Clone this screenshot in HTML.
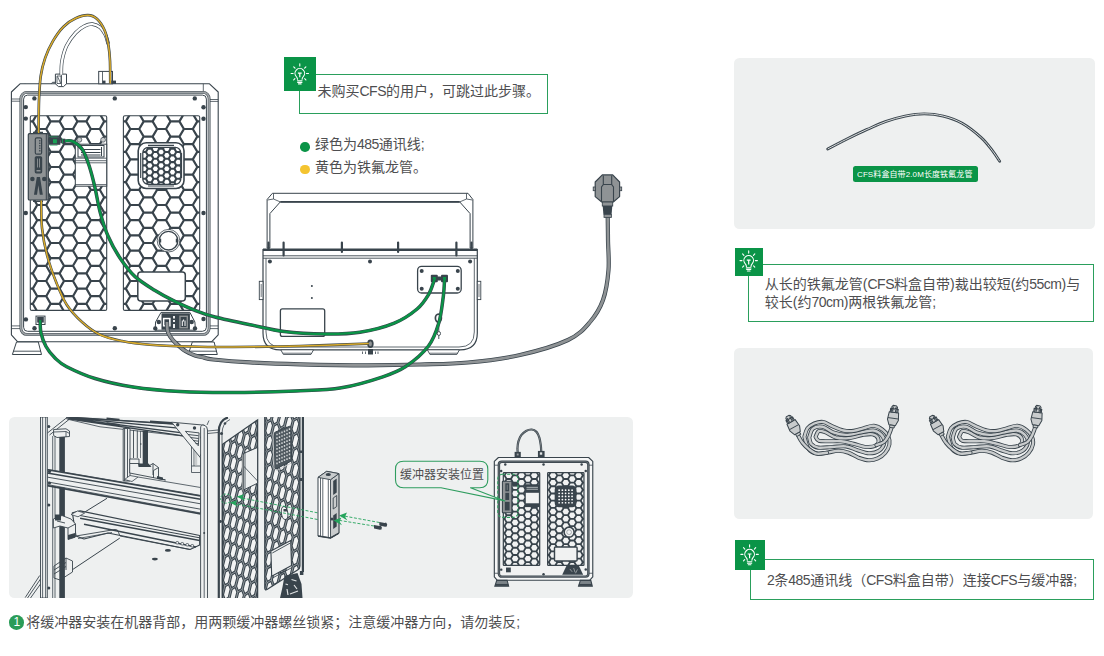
<!DOCTYPE html>
<html lang="zh-CN">
<head>
<meta charset="utf-8">
<title>CFS 连接</title>
<style>
*{box-sizing:border-box;margin:0;padding:0}
html,body{width:1104px;height:656px;background:#fff;overflow:hidden}
body{position:relative;font-family:"Liberation Sans","Noto Sans CJK SC",sans-serif;font-size:14px;color:#4e4e50;line-height:1}
.abs{position:absolute}
.panel{position:absolute;background:#eef0f0;border-radius:5.5px}
.tip{position:absolute;border:1.3px solid #2a9f5c;background:#fff}
.ico{position:absolute;background:#0a9447}
.ico svg{position:absolute;left:0;top:0;width:100%;height:100%}
.t{position:absolute;z-index:2;white-space:nowrap;line-height:14px}
.dot{position:absolute;width:9.6px;height:9.6px;border-radius:50%}
.l{letter-spacing:-0.5px}
svg.art{position:absolute;left:0;top:0}
</style>
</head>
<body>
<!-- panels -->
<div class="panel" style="left:9px;top:417px;width:624px;height:181px"></div>
<div class="panel" style="left:734.3px;top:58px;width:360.7px;height:170.7px"></div>
<div class="panel" style="left:734.3px;top:348px;width:359px;height:170.6px"></div>

<!-- tip 1 -->
<div class="tip" style="left:298.8px;top:73.9px;width:248.8px;height:40.3px"></div>
<div class="ico" style="left:284px;top:57px;width:32px;height:33.8px"><svg viewBox="0 0 32 33.8"><use href="#bulb" transform="translate(15.8 16.5)"/></svg></div>
<p class="t" style="left:317.5px;top:84px">未购买<span class="l">CFS</span>的用户，可跳过此步骤。</p>

<!-- legend -->
<span class="dot" style="left:300.3px;top:142px;background:#0a9447"></span>
<p class="t" style="left:315px;top:137.3px">绿色为<span class="l">485</span>通讯线;</p>
<span class="dot" style="left:300.3px;top:164.8px;background:#f4c430"></span>
<p class="t" style="left:315px;top:160.1px">黄色为铁氟龙管。</p>

<!-- tip 2 -->
<div class="tip" style="left:748.4px;top:263.5px;width:345.7px;height:58px"></div>
<div class="ico" style="left:735.2px;top:248.2px;width:27.7px;height:27.5px"><svg viewBox="0 0 27.7 27.5"><use href="#bulb" transform="translate(13.7 12.6)"/></svg></div>
<p class="t" style="left:764.8px;top:276px;line-height:17.8px">从长的铁氟龙管(<span class="l">CFS</span>料盒自带)裁出较短(约<span class="l">55cm</span>)与<br>较长(约<span class="l">70cm</span>)两根铁氟龙管;</p>

<!-- tip 3 -->
<div class="tip" style="left:750.1px;top:559px;width:344px;height:41px"></div>
<div class="ico" style="left:735.2px;top:540px;width:29.8px;height:29.9px"><svg viewBox="0 0 29.8 29.9"><use href="#bulb" transform="translate(14.6 14.4)"/></svg></div>
<p class="t" style="left:767px;top:573px"><span class="l">2</span>条<span class="l">485</span>通讯线（<span class="l">CFS</span>料盒自带）连接<span class="l">CFS</span>与缓冲器;</p>

<!-- green label -->
<div class="abs" style="left:852.6px;top:166.1px;width:125.6px;height:16.1px;background:#0a9447;border-radius:2.5px"></div>
<p class="t" style="left:857px;top:170px;font-size:16px;line-height:16px;color:#fff;letter-spacing:0.2px;transform:scale(0.5);transform-origin:0 0"><span>CFS</span>料盒自带<span>2.0M</span>长度铁氟龙管</p>

<!-- callout text -->
<p class="t" style="left:399.9px;top:468.6px;font-size:12px;line-height:12px;z-index:2">缓冲器安装位置</p>

<!-- caption -->
<span class="abs" style="left:9.4px;top:615.2px;width:14.7px;height:14.7px;border-radius:50%;background:#2a9c58;color:#fff;font-size:12px;line-height:14.7px;text-align:center">1</span>
<p class="t" style="left:26.3px;top:614.7px">将缓冲器安装在机器背部，用两颗缓冲器螺丝锁紧；注意缓冲器方向，请勿装反;</p>

<svg class="art" width="1104" height="656" viewBox="0 0 1104 656">
<defs>
<g id="bulb" fill="none" stroke="#fff" stroke-width="1.1" stroke-linecap="round" stroke-linejoin="round">
<path d="M-2.300 5.800c0-1.300-0.500-1.900-1.300-2.800a4.800 4.800 0 1 1 7.200 0c-0.800 0.900-1.300 1.500-1.300 2.800"/>
<path d="M-2.300 7.300h4.600M-2.100 8.900h4.200M-1.300 10.400h2.600"/>
<path d="M0 -9.700v2.200M-8.700 0h2M6.700 0h2M-6.100 -6.700l1.300 1.400M6.100 -6.700l-1.300 1.400M-6.100 6.500l1.200-1.300M6.100 6.500l-1.200-1.300"/>
<path d="M-1.900 -0.400h3.800M0 -0.400v4.200" stroke-width="1.200" stroke-linecap="butt"/>
</g>
</defs>
<defs><clipPath id="hc1"><rect x="30.3" y="115.7" width="76.4" height="194.7" rx="1.500"/></clipPath><path id="hx1" d="M10.4 83.4L19.4 83.4L23.8 91L19.4 98.6M10.4 98.6L19.4 98.6L23.8 106.2L19.4 113.8M10.4 113.8L19.4 113.8L23.8 121.4L19.4 129M10.4 129L19.4 129L23.8 136.6L19.4 144.2M10.4 144.2L19.4 144.2L23.8 151.8L19.4 159.4M10.4 159.4L19.4 159.4L23.8 167L19.4 174.6M10.4 174.6L19.4 174.6L23.8 182.2L19.4 189.8M10.4 189.8L19.4 189.8L23.8 197.4L19.4 205M10.4 205L19.4 205L23.8 212.6L19.4 220.2M10.4 220.2L19.4 220.2L23.8 227.8L19.4 235.4M10.4 235.4L19.4 235.4L23.8 243L19.4 250.6M10.4 250.6L19.4 250.6L23.8 258.2L19.4 265.8M10.4 265.8L19.4 265.8L23.8 273.4L19.4 281M10.4 281L19.4 281L23.8 288.6L19.4 296.2M10.4 296.2L19.4 296.2L23.8 303.8L19.4 311.4M10.4 311.4L19.4 311.4L23.8 319L19.4 326.6M10.4 326.6L19.4 326.6L23.8 334.2L19.4 341.8M23.8 91L32.8 91L37.2 98.6L32.8 106.2M23.8 106.2L32.8 106.2L37.2 113.8L32.8 121.4M23.8 121.4L32.8 121.4L37.2 129L32.8 136.6M23.8 136.6L32.8 136.6L37.2 144.2L32.8 151.8M23.8 151.8L32.8 151.8L37.2 159.4L32.8 167M23.8 167L32.8 167L37.2 174.6L32.8 182.2M23.8 182.2L32.8 182.2L37.2 189.8L32.8 197.4M23.8 197.4L32.8 197.4L37.2 205L32.8 212.6M23.8 212.6L32.8 212.6L37.2 220.2L32.8 227.8M23.8 227.8L32.8 227.8L37.2 235.4L32.8 243M23.8 243L32.8 243L37.2 250.6L32.8 258.2M23.8 258.2L32.8 258.2L37.2 265.8L32.8 273.4M23.8 273.4L32.8 273.4L37.2 281L32.8 288.6M23.8 288.6L32.8 288.6L37.2 296.2L32.8 303.8M23.8 303.8L32.8 303.8L37.2 311.4L32.8 319M23.8 319L32.8 319L37.2 326.6L32.8 334.2M37.2 83.4L46.2 83.4L50.6 91L46.2 98.6M37.2 98.6L46.2 98.6L50.6 106.2L46.2 113.8M37.2 113.8L46.2 113.8L50.6 121.4L46.2 129M37.2 129L46.2 129L50.6 136.6L46.2 144.2M37.2 144.2L46.2 144.2L50.6 151.8L46.2 159.4M37.2 159.4L46.2 159.4L50.6 167L46.2 174.6M37.2 174.6L46.2 174.6L50.6 182.2L46.2 189.8M37.2 189.8L46.2 189.8L50.6 197.4L46.2 205M37.2 205L46.2 205L50.6 212.6L46.2 220.2M37.2 220.2L46.2 220.2L50.6 227.8L46.2 235.4M37.2 235.4L46.2 235.4L50.6 243L46.2 250.6M37.2 250.6L46.2 250.6L50.6 258.2L46.2 265.8M37.2 265.8L46.2 265.8L50.6 273.4L46.2 281M37.2 281L46.2 281L50.6 288.6L46.2 296.2M37.2 296.2L46.2 296.2L50.6 303.8L46.2 311.4M37.2 311.4L46.2 311.4L50.6 319L46.2 326.6M37.2 326.6L46.2 326.6L50.6 334.2L46.2 341.8M50.6 91L59.6 91L64 98.6L59.6 106.2M50.6 106.2L59.6 106.2L64 113.8L59.6 121.4M50.6 121.4L59.6 121.4L64 129L59.6 136.6M50.6 136.6L59.6 136.6L64 144.2L59.6 151.8M50.6 151.8L59.6 151.8L64 159.4L59.6 167M50.6 167L59.6 167L64 174.6L59.6 182.2M50.6 182.2L59.6 182.2L64 189.8L59.6 197.4M50.6 197.4L59.6 197.4L64 205L59.6 212.6M50.6 212.6L59.6 212.6L64 220.2L59.6 227.8M50.6 227.8L59.6 227.8L64 235.4L59.6 243M50.6 243L59.6 243L64 250.6L59.6 258.2M50.6 258.2L59.6 258.2L64 265.8L59.6 273.4M50.6 273.4L59.6 273.4L64 281L59.6 288.6M50.6 288.6L59.6 288.6L64 296.2L59.6 303.8M50.6 303.8L59.6 303.8L64 311.4L59.6 319M50.6 319L59.6 319L64 326.6L59.6 334.2M64 83.4L73 83.4L77.4 91L73 98.6M64 98.6L73 98.6L77.4 106.2L73 113.8M64 113.8L73 113.8L77.4 121.4L73 129M64 129L73 129L77.4 136.6L73 144.2M64 144.2L73 144.2L77.4 151.8L73 159.4M64 159.4L73 159.4L77.4 167L73 174.6M64 174.6L73 174.6L77.4 182.2L73 189.8M64 189.8L73 189.8L77.4 197.4L73 205M64 205L73 205L77.4 212.6L73 220.2M64 220.2L73 220.2L77.4 227.8L73 235.4M64 235.4L73 235.4L77.4 243L73 250.6M64 250.6L73 250.6L77.4 258.2L73 265.8M64 265.8L73 265.8L77.4 273.4L73 281M64 281L73 281L77.4 288.6L73 296.2M64 296.2L73 296.2L77.4 303.8L73 311.4M64 311.4L73 311.4L77.4 319L73 326.6M64 326.6L73 326.6L77.4 334.2L73 341.8M77.4 91L86.4 91L90.8 98.6L86.4 106.2M77.4 106.2L86.4 106.2L90.8 113.8L86.4 121.4M77.4 121.4L86.4 121.4L90.8 129L86.4 136.6M77.4 136.6L86.4 136.6L90.8 144.2L86.4 151.8M77.4 151.8L86.4 151.8L90.8 159.4L86.4 167M77.4 167L86.4 167L90.8 174.6L86.4 182.2M77.4 182.2L86.4 182.2L90.8 189.8L86.4 197.4M77.4 197.4L86.4 197.4L90.8 205L86.4 212.6M77.4 212.6L86.4 212.6L90.8 220.2L86.4 227.8M77.4 227.8L86.4 227.8L90.8 235.4L86.4 243M77.4 243L86.4 243L90.8 250.6L86.4 258.2M77.4 258.2L86.4 258.2L90.8 265.8L86.4 273.4M77.4 273.4L86.4 273.4L90.8 281L86.4 288.6M77.4 288.6L86.4 288.6L90.8 296.2L86.4 303.8M77.4 303.8L86.4 303.8L90.8 311.4L86.4 319M77.4 319L86.4 319L90.8 326.6L86.4 334.2M90.8 83.4L99.8 83.4L104.2 91L99.8 98.6M90.8 98.6L99.8 98.6L104.2 106.2L99.8 113.8M90.8 113.8L99.8 113.8L104.2 121.4L99.8 129M90.8 129L99.8 129L104.2 136.6L99.8 144.2M90.8 144.2L99.8 144.2L104.2 151.8L99.8 159.4M90.8 159.4L99.8 159.4L104.2 167L99.8 174.6M90.8 174.6L99.8 174.6L104.2 182.2L99.8 189.8M90.8 189.8L99.8 189.8L104.2 197.4L99.8 205M90.8 205L99.8 205L104.2 212.6L99.8 220.2M90.8 220.2L99.8 220.2L104.2 227.8L99.8 235.4M90.8 235.4L99.8 235.4L104.2 243L99.8 250.6M90.8 250.6L99.8 250.6L104.2 258.2L99.8 265.8M90.8 265.8L99.8 265.8L104.2 273.4L99.8 281M90.8 281L99.8 281L104.2 288.6L99.8 296.2M90.8 296.2L99.8 296.2L104.2 303.8L99.8 311.4M90.8 311.4L99.8 311.4L104.2 319L99.8 326.6M90.8 326.6L99.8 326.6L104.2 334.2L99.8 341.8M104.2 91L113.2 91L117.6 98.6L113.2 106.2M104.2 106.2L113.2 106.2L117.6 113.8L113.2 121.4M104.2 121.4L113.2 121.4L117.6 129L113.2 136.6M104.2 136.6L113.2 136.6L117.6 144.2L113.2 151.8M104.2 151.8L113.2 151.8L117.6 159.4L113.2 167M104.2 167L113.2 167L117.6 174.6L113.2 182.2M104.2 182.2L113.2 182.2L117.6 189.8L113.2 197.4M104.2 197.4L113.2 197.4L117.6 205L113.2 212.6M104.2 212.6L113.2 212.6L117.6 220.2L113.2 227.8M104.2 227.8L113.2 227.8L117.6 235.4L113.2 243M104.2 243L113.2 243L117.6 250.6L113.2 258.2M104.2 258.2L113.2 258.2L117.6 265.8L113.2 273.4M104.2 273.4L113.2 273.4L117.6 281L113.2 288.6M104.2 288.6L113.2 288.6L117.6 296.2L113.2 303.8M104.2 303.8L113.2 303.8L117.6 311.4L113.2 319M104.2 319L113.2 319L117.6 326.6L113.2 334.2M117.6 83.4L126.6 83.4L131 91L126.6 98.6M117.6 98.6L126.6 98.6L131 106.2L126.6 113.8M117.6 113.8L126.6 113.8L131 121.4L126.6 129M117.6 129L126.6 129L131 136.6L126.6 144.2M117.6 144.2L126.6 144.2L131 151.8L126.6 159.4M117.6 159.4L126.6 159.4L131 167L126.6 174.6M117.6 174.6L126.6 174.6L131 182.2L126.6 189.8M117.6 189.8L126.6 189.8L131 197.4L126.6 205M117.6 205L126.6 205L131 212.6L126.6 220.2M117.6 220.2L126.6 220.2L131 227.8L126.6 235.4M117.6 235.4L126.6 235.4L131 243L126.6 250.6M117.6 250.6L126.6 250.6L131 258.2L126.6 265.8M117.6 265.8L126.6 265.8L131 273.4L126.6 281M117.6 281L126.6 281L131 288.6L126.6 296.2M117.6 296.2L126.6 296.2L131 303.8L126.6 311.4M117.6 311.4L126.6 311.4L131 319L126.6 326.6M117.6 326.6L126.6 326.6L131 334.2L126.6 341.8"/><clipPath id="hc2"><rect x="123.4" y="115.7" width="76.3" height="194.7" rx="1.500"/></clipPath><path id="hx2" d="M103.5 83.4L112.4 83.4L116.9 91L112.4 98.6M103.5 98.6L112.4 98.6L116.9 106.2L112.4 113.8M103.5 113.8L112.4 113.8L116.9 121.4L112.4 129M103.5 129L112.4 129L116.9 136.6L112.4 144.2M103.5 144.2L112.4 144.2L116.9 151.8L112.4 159.4M103.5 159.4L112.4 159.4L116.9 167L112.4 174.6M103.5 174.6L112.4 174.6L116.9 182.2L112.4 189.8M103.5 189.8L112.4 189.8L116.9 197.4L112.4 205M103.5 205L112.4 205L116.9 212.6L112.4 220.2M103.5 220.2L112.4 220.2L116.9 227.8L112.4 235.4M103.5 235.4L112.4 235.4L116.9 243L112.4 250.6M103.5 250.6L112.4 250.6L116.9 258.2L112.4 265.8M103.5 265.8L112.4 265.8L116.9 273.4L112.4 281M103.5 281L112.4 281L116.9 288.6L112.4 296.2M103.5 296.2L112.4 296.2L116.9 303.8L112.4 311.4M103.5 311.4L112.4 311.4L116.9 319L112.4 326.6M103.5 326.6L112.4 326.6L116.9 334.2L112.4 341.8M116.9 91L125.8 91L130.3 98.6L125.8 106.2M116.9 106.2L125.8 106.2L130.3 113.8L125.8 121.4M116.9 121.4L125.8 121.4L130.3 129L125.8 136.6M116.9 136.6L125.8 136.6L130.3 144.2L125.8 151.8M116.9 151.8L125.8 151.8L130.3 159.4L125.8 167M116.9 167L125.8 167L130.3 174.6L125.8 182.2M116.9 182.2L125.8 182.2L130.3 189.8L125.8 197.4M116.9 197.4L125.8 197.4L130.3 205L125.8 212.6M116.9 212.6L125.8 212.6L130.3 220.2L125.8 227.8M116.9 227.8L125.8 227.8L130.3 235.4L125.8 243M116.9 243L125.8 243L130.3 250.6L125.8 258.2M116.9 258.2L125.8 258.2L130.3 265.8L125.8 273.4M116.9 273.4L125.8 273.4L130.3 281L125.8 288.6M116.9 288.6L125.8 288.6L130.3 296.2L125.8 303.8M116.9 303.8L125.8 303.8L130.3 311.4L125.8 319M116.9 319L125.8 319L130.3 326.6L125.8 334.2M130.3 83.4L139.2 83.4L143.7 91L139.2 98.6M130.3 98.6L139.2 98.6L143.7 106.2L139.2 113.8M130.3 113.8L139.2 113.8L143.7 121.4L139.2 129M130.3 129L139.2 129L143.7 136.6L139.2 144.2M130.3 144.2L139.2 144.2L143.7 151.8L139.2 159.4M130.3 159.4L139.2 159.4L143.7 167L139.2 174.6M130.3 174.6L139.2 174.6L143.7 182.2L139.2 189.8M130.3 189.8L139.2 189.8L143.7 197.4L139.2 205M130.3 205L139.2 205L143.7 212.6L139.2 220.2M130.3 220.2L139.2 220.2L143.7 227.8L139.2 235.4M130.3 235.4L139.2 235.4L143.7 243L139.2 250.6M130.3 250.6L139.2 250.6L143.7 258.2L139.2 265.8M130.3 265.8L139.2 265.8L143.7 273.4L139.2 281M130.3 281L139.2 281L143.7 288.6L139.2 296.2M130.3 296.2L139.2 296.2L143.7 303.8L139.2 311.4M130.3 311.4L139.2 311.4L143.7 319L139.2 326.6M130.3 326.6L139.2 326.6L143.7 334.2L139.2 341.8M143.7 91L152.6 91L157.1 98.6L152.6 106.2M143.7 106.2L152.6 106.2L157.1 113.8L152.6 121.4M143.7 121.4L152.6 121.4L157.1 129L152.6 136.6M143.7 136.6L152.6 136.6L157.1 144.2L152.6 151.8M143.7 151.8L152.6 151.8L157.1 159.4L152.6 167M143.7 167L152.6 167L157.1 174.6L152.6 182.2M143.7 182.2L152.6 182.2L157.1 189.8L152.6 197.4M143.7 197.4L152.6 197.4L157.1 205L152.6 212.6M143.7 212.6L152.6 212.6L157.1 220.2L152.6 227.8M143.7 227.8L152.6 227.8L157.1 235.4L152.6 243M143.7 243L152.6 243L157.1 250.6L152.6 258.2M143.7 258.2L152.6 258.2L157.1 265.8L152.6 273.4M143.7 273.4L152.6 273.4L157.1 281L152.6 288.6M143.7 288.6L152.6 288.6L157.1 296.2L152.6 303.8M143.7 303.8L152.6 303.8L157.1 311.4L152.6 319M143.7 319L152.6 319L157.1 326.6L152.6 334.2M157.1 83.4L166 83.4L170.5 91L166 98.6M157.1 98.6L166 98.6L170.5 106.2L166 113.8M157.1 113.8L166 113.8L170.5 121.4L166 129M157.1 129L166 129L170.5 136.6L166 144.2M157.1 144.2L166 144.2L170.5 151.8L166 159.4M157.1 159.4L166 159.4L170.5 167L166 174.6M157.1 174.6L166 174.6L170.5 182.2L166 189.8M157.1 189.8L166 189.8L170.5 197.4L166 205M157.1 205L166 205L170.5 212.6L166 220.2M157.1 220.2L166 220.2L170.5 227.8L166 235.4M157.1 235.4L166 235.4L170.5 243L166 250.6M157.1 250.6L166 250.6L170.5 258.2L166 265.8M157.1 265.8L166 265.8L170.5 273.4L166 281M157.1 281L166 281L170.5 288.6L166 296.2M157.1 296.2L166 296.2L170.5 303.8L166 311.4M157.1 311.4L166 311.4L170.5 319L166 326.6M157.1 326.6L166 326.6L170.5 334.2L166 341.8M170.5 91L179.4 91L183.9 98.6L179.4 106.2M170.5 106.2L179.4 106.2L183.9 113.8L179.4 121.4M170.5 121.4L179.4 121.4L183.9 129L179.4 136.6M170.5 136.6L179.4 136.6L183.9 144.2L179.4 151.8M170.5 151.8L179.4 151.8L183.9 159.4L179.4 167M170.5 167L179.4 167L183.9 174.6L179.4 182.2M170.5 182.2L179.4 182.2L183.9 189.8L179.4 197.4M170.5 197.4L179.4 197.4L183.9 205L179.4 212.6M170.5 212.6L179.4 212.6L183.9 220.2L179.4 227.8M170.5 227.8L179.4 227.8L183.9 235.4L179.4 243M170.5 243L179.4 243L183.9 250.6L179.4 258.2M170.5 258.2L179.4 258.2L183.9 265.8L179.4 273.4M170.5 273.4L179.4 273.4L183.9 281L179.4 288.6M170.5 288.6L179.4 288.6L183.9 296.2L179.4 303.8M170.5 303.8L179.4 303.8L183.9 311.4L179.4 319M170.5 319L179.4 319L183.9 326.6L179.4 334.2M183.9 83.4L192.8 83.4L197.3 91L192.8 98.6M183.9 98.6L192.8 98.6L197.3 106.2L192.8 113.8M183.9 113.8L192.8 113.8L197.3 121.4L192.8 129M183.9 129L192.8 129L197.3 136.6L192.8 144.2M183.9 144.2L192.8 144.2L197.3 151.8L192.8 159.4M183.9 159.4L192.8 159.4L197.3 167L192.8 174.6M183.9 174.6L192.8 174.6L197.3 182.2L192.8 189.8M183.9 189.8L192.8 189.8L197.3 197.4L192.8 205M183.9 205L192.8 205L197.3 212.6L192.8 220.2M183.9 220.2L192.8 220.2L197.3 227.8L192.8 235.4M183.9 235.4L192.8 235.4L197.3 243L192.8 250.6M183.9 250.6L192.8 250.6L197.3 258.2L192.8 265.8M183.9 265.8L192.8 265.8L197.3 273.4L192.8 281M183.9 281L192.8 281L197.3 288.6L192.8 296.2M183.9 296.2L192.8 296.2L197.3 303.8L192.8 311.4M183.9 311.4L192.8 311.4L197.3 319L192.8 326.6M183.9 326.6L192.8 326.6L197.3 334.2L192.8 341.8M197.3 91L206.2 91L210.7 98.6L206.2 106.2M197.3 106.2L206.2 106.2L210.7 113.8L206.2 121.4M197.3 121.4L206.2 121.4L210.7 129L206.2 136.6M197.3 136.6L206.2 136.6L210.7 144.2L206.2 151.8M197.3 151.8L206.2 151.8L210.7 159.4L206.2 167M197.3 167L206.2 167L210.7 174.6L206.2 182.2M197.3 182.2L206.2 182.2L210.7 189.8L206.2 197.4M197.3 197.4L206.2 197.4L210.7 205L206.2 212.6M197.3 212.6L206.2 212.6L210.7 220.2L206.2 227.8M197.3 227.8L206.2 227.8L210.7 235.4L206.2 243M197.3 243L206.2 243L210.7 250.6L206.2 258.2M197.3 258.2L206.2 258.2L210.7 265.8L206.2 273.4M197.3 273.4L206.2 273.4L210.7 281L206.2 288.6M197.3 288.6L206.2 288.6L210.7 296.2L206.2 303.8M197.3 303.8L206.2 303.8L210.7 311.4L206.2 319M197.3 319L206.2 319L210.7 326.6L206.2 334.2M210.7 83.4L219.6 83.4L224.1 91L219.6 98.6M210.7 98.6L219.6 98.6L224.1 106.2L219.6 113.8M210.7 113.8L219.6 113.8L224.1 121.4L219.6 129M210.7 129L219.6 129L224.1 136.6L219.6 144.2M210.7 144.2L219.6 144.2L224.1 151.8L219.6 159.4M210.7 159.4L219.6 159.4L224.1 167L219.6 174.6M210.7 174.6L219.6 174.6L224.1 182.2L219.6 189.8M210.7 189.8L219.6 189.8L224.1 197.4L219.6 205M210.7 205L219.6 205L224.1 212.6L219.6 220.2M210.7 220.2L219.6 220.2L224.1 227.8L219.6 235.4M210.7 235.4L219.6 235.4L224.1 243L219.6 250.6M210.7 250.6L219.6 250.6L224.1 258.2L219.6 265.8M210.7 265.8L219.6 265.8L224.1 273.4L219.6 281M210.7 281L219.6 281L224.1 288.6L219.6 296.2M210.7 296.2L219.6 296.2L224.1 303.8L219.6 311.4M210.7 311.4L219.6 311.4L224.1 319L219.6 326.6M210.7 326.6L219.6 326.6L224.1 334.2L219.6 341.8"/></defs>
<g id="printer-back">
<path d="M20 83.800H209.500L218.200 92V334.800L211.500 341.800H17.700L11.400 334.800V92Z" fill="#fff" stroke="#39444c" stroke-width="1.100" stroke-linejoin="round"/>
<path d="M11.400 99H20M11.400 101.200H20M209.800 99.500H218.200M209.800 101.400H218.200M11.400 325.900H20M11.400 328.600H20M209.800 325.900H218.200M209.800 328.600H218.200M203.300 83.800V91.500M25 83.800V84" fill="none" stroke="#39444c" stroke-width="0.800"/>
<rect x="20.900" y="92.400" width="188.200" height="242" rx="6" fill="#fff" stroke="#39444c" stroke-width="2.800"/>
<rect x="20.900" y="92.400" width="188.200" height="242" rx="6" fill="none" stroke="#9da2a5" stroke-width="1.700"/>
<rect x="23.600" y="95.100" width="182.800" height="236.200" rx="4" fill="#fff" stroke="#39444c" stroke-width="1"/>
<circle cx="34.4" cy="98.4" r="2.200" fill="#39444c"/>
<circle cx="114.8" cy="98.4" r="2.200" fill="#39444c"/>
<circle cx="194.8" cy="98.4" r="2.200" fill="#39444c"/>
<circle cx="25.8" cy="107.1" r="2.200" fill="#39444c"/>
<circle cx="25.8" cy="118.6" r="2.200" fill="#39444c"/>
<circle cx="203.5" cy="107.2" r="2.200" fill="#39444c"/>
<circle cx="203.5" cy="118.8" r="2.200" fill="#39444c"/>
<circle cx="25.8" cy="213" r="2.200" fill="#39444c"/>
<circle cx="203.5" cy="213" r="2.200" fill="#39444c"/>
<circle cx="25.9" cy="319.4" r="2.200" fill="#39444c"/>
<circle cx="34.5" cy="328.3" r="2.200" fill="#39444c"/>
<circle cx="114.8" cy="328.3" r="2.200" fill="#39444c"/>
<circle cx="203.5" cy="319" r="2.200" fill="#39444c"/>
<path d="M16.5 342h21.800l3.200 12.500h-29.100z" fill="#fff" stroke="#39444c" stroke-width="1"/>
<path d="M13.2 351.200h27.600" stroke="#39444c" stroke-width="0.900" fill="none"/>
<path d="M192.3 342h21.800l3.200 12.500h-29.100z" fill="#fff" stroke="#39444c" stroke-width="1"/>
<path d="M189 351.200h27.600" stroke="#39444c" stroke-width="0.900" fill="none"/>
<path d="M55.400 74.100h11.100v9.700l-3 2.800h-5l-3.100-2.800z" fill="#fff" stroke="#39444c" stroke-width="1"/>
<path d="M57 76h4v7.500h-4zM57.500 76.500l3 6.500M61.500 74.500v11.500" fill="none" stroke="#39444c" stroke-width="0.800"/>
<path d="M51 83.800l1.500-1.500h3" fill="none" stroke="#39444c" stroke-width="1"/>
<rect x="98.700" y="71.400" width="13.800" height="12.400" fill="#fff" stroke="#39444c" stroke-width="1"/>
<path d="M102.500 71.400v12.400" stroke="#39444c" stroke-width="0.800"/>
<rect x="102.500" y="80.600" width="3" height="3.200" fill="#39444c"/><rect x="111.300" y="80.600" width="4.700" height="3.200" fill="#39444c"/>
<g clip-path="url(#hc1)"><use href="#hx1" fill="none" stroke="#39444c" stroke-width="2.2"/></g><rect x="30.3" y="115.7" width="76.4" height="194.7" rx="1.500" fill="none" stroke="#39444c" stroke-width="1.1"/>
<g clip-path="url(#hc2)"><use href="#hx2" fill="none" stroke="#39444c" stroke-width="2.2"/></g><rect x="123.4" y="115.7" width="76.3" height="194.7" rx="1.500" fill="none" stroke="#39444c" stroke-width="1.1"/>
<rect x="75.300" y="144.200" width="31.400" height="42" fill="#fff" stroke="#39444c" stroke-width="1"/>
<path d="M75.300 158.200h31.400M75.300 160.700h31.400M75.300 162.800h31.400M75.300 184.600h31.400" stroke="#39444c" stroke-width="0.800" fill="none"/>
<rect x="78" y="145.500" width="26" height="11.500" fill="#fff" stroke="#39444c" stroke-width="1"/>
<path d="M81 149.500h19.500M81 152.500h19.500M81 155h19.500M101.500 147v9" stroke="#39444c" stroke-width="1" fill="none"/>
<circle cx="79.400" cy="139.800" r="2.400" fill="#c9cccd" stroke="#39444c" stroke-width="0.700"/><circle cx="103.100" cy="139.800" r="2.400" fill="#c9cccd" stroke="#39444c" stroke-width="0.700"/>
<rect x="138.200" y="142.800" width="45.800" height="45.700" rx="8" fill="#fff" stroke="#39444c" stroke-width="1.600"/>
<path d="M148 145.300h26M148 186h26M140.700 153v25M181.500 153v25" stroke="#39444c" stroke-width="1.200" fill="none"/>
<clipPath id="fan"><rect x="142.800" y="147.400" width="38" height="37" rx="5.500"/></clipPath>
<g clip-path="url(#fan)"><rect x="142" y="147" width="40" height="38" fill="#fff"/><path d="M130.7 131.9L134.5 131.9L136.4 135.2L134.5 138.6M130.7 138.6L134.5 138.6L136.4 141.9L134.5 145.3M130.7 145.3L134.5 145.3L136.4 148.7L134.5 152M130.7 152L134.5 152L136.4 155.3L134.5 158.7M130.7 158.7L134.5 158.7L136.4 162.1L134.5 165.4M130.7 165.4L134.5 165.4L136.4 168.8L134.5 172.1M130.7 172.1L134.5 172.1L136.4 175.4L134.5 178.8M130.7 178.8L134.5 178.8L136.4 182.2L134.5 185.5M130.7 185.5L134.5 185.5L136.4 188.8L134.5 192.2M130.7 192.2L134.5 192.2L136.4 195.6L134.5 198.9M136.4 135.2L140.2 135.2L142.1 138.6L140.2 141.9M136.4 142L140.2 142L142.1 145.3L140.2 148.7M136.4 148.7L140.2 148.7L142.1 152L140.2 155.3M136.4 155.4L140.2 155.4L142.1 158.7L140.2 162.1M136.4 162.1L140.2 162.1L142.1 165.4L140.2 168.8M136.4 168.8L140.2 168.8L142.1 172.1L140.2 175.4M136.4 175.5L140.2 175.5L142.1 178.8L140.2 182.2M136.4 182.2L140.2 182.2L142.1 185.5L140.2 188.8M136.4 188.9L140.2 188.9L142.1 192.2L140.2 195.6M142.1 131.9L145.9 131.9L147.8 135.2L145.9 138.6M142.1 138.6L145.9 138.6L147.8 141.9L145.9 145.3M142.1 145.3L145.9 145.3L147.8 148.7L145.9 152M142.1 152L145.9 152L147.8 155.3L145.9 158.7M142.1 158.7L145.9 158.7L147.8 162.1L145.9 165.4M142.1 165.4L145.9 165.4L147.8 168.8L145.9 172.1M142.1 172.1L145.9 172.1L147.8 175.4L145.9 178.8M142.1 178.8L145.9 178.8L147.8 182.2L145.9 185.5M142.1 185.5L145.9 185.5L147.8 188.8L145.9 192.2M142.1 192.2L145.9 192.2L147.8 195.6L145.9 198.9M147.8 135.2L151.6 135.2L153.5 138.6L151.6 141.9M147.8 142L151.6 142L153.5 145.3L151.6 148.7M147.8 148.7L151.6 148.7L153.5 152L151.6 155.3M147.8 155.4L151.6 155.4L153.5 158.7L151.6 162.1M147.8 162.1L151.6 162.1L153.5 165.4L151.6 168.8M147.8 168.8L151.6 168.8L153.5 172.1L151.6 175.4M147.8 175.5L151.6 175.5L153.5 178.8L151.6 182.2M147.8 182.2L151.6 182.2L153.5 185.5L151.6 188.8M147.8 188.9L151.6 188.9L153.5 192.2L151.6 195.6M153.5 131.9L157.3 131.9L159.2 135.2L157.3 138.6M153.5 138.6L157.3 138.6L159.2 141.9L157.3 145.3M153.5 145.3L157.3 145.3L159.2 148.7L157.3 152M153.5 152L157.3 152L159.2 155.3L157.3 158.7M153.5 158.7L157.3 158.7L159.2 162.1L157.3 165.4M153.5 165.4L157.3 165.4L159.2 168.8L157.3 172.1M153.5 172.1L157.3 172.1L159.2 175.4L157.3 178.8M153.5 178.8L157.3 178.8L159.2 182.2L157.3 185.5M153.5 185.5L157.3 185.5L159.2 188.8L157.3 192.2M153.5 192.2L157.3 192.2L159.2 195.6L157.3 198.9M159.2 135.2L163 135.2L164.9 138.6L163 141.9M159.2 142L163 142L164.9 145.3L163 148.7M159.2 148.7L163 148.7L164.9 152L163 155.3M159.2 155.4L163 155.4L164.9 158.7L163 162.1M159.2 162.1L163 162.1L164.9 165.4L163 168.8M159.2 168.8L163 168.8L164.9 172.1L163 175.4M159.2 175.5L163 175.5L164.9 178.8L163 182.2M159.2 182.2L163 182.2L164.9 185.5L163 188.8M159.2 188.9L163 188.9L164.9 192.2L163 195.6M164.9 131.9L168.7 131.9L170.6 135.2L168.7 138.6M164.9 138.6L168.7 138.6L170.6 141.9L168.7 145.3M164.9 145.3L168.7 145.3L170.6 148.7L168.7 152M164.9 152L168.7 152L170.6 155.3L168.7 158.7M164.9 158.7L168.7 158.7L170.6 162.1L168.7 165.4M164.9 165.4L168.7 165.4L170.6 168.8L168.7 172.1M164.9 172.1L168.7 172.1L170.6 175.4L168.7 178.8M164.9 178.8L168.7 178.8L170.6 182.2L168.7 185.5M164.9 185.5L168.7 185.5L170.6 188.8L168.7 192.2M164.9 192.2L168.7 192.2L170.6 195.6L168.7 198.9M170.6 135.2L174.4 135.2L176.3 138.6L174.4 141.9M170.6 142L174.4 142L176.3 145.3L174.4 148.7M170.6 148.7L174.4 148.7L176.3 152L174.4 155.3M170.6 155.4L174.4 155.4L176.3 158.7L174.4 162.1M170.6 162.1L174.4 162.1L176.3 165.4L174.4 168.8M170.6 168.8L174.4 168.8L176.3 172.1L174.4 175.4M170.6 175.5L174.4 175.5L176.3 178.8L174.4 182.2M170.6 182.2L174.4 182.2L176.3 185.5L174.4 188.8M170.6 188.9L174.4 188.9L176.3 192.2L174.4 195.6M176.3 131.9L180.1 131.9L182 135.2L180.1 138.6M176.3 138.6L180.1 138.6L182 141.9L180.1 145.3M176.3 145.3L180.1 145.3L182 148.7L180.1 152M176.3 152L180.1 152L182 155.3L180.1 158.7M176.3 158.7L180.1 158.7L182 162.1L180.1 165.4M176.3 165.4L180.1 165.4L182 168.8L180.1 172.1M176.3 172.1L180.1 172.1L182 175.4L180.1 178.8M176.3 178.8L180.1 178.8L182 182.2L180.1 185.5M176.3 185.5L180.1 185.5L182 188.8L180.1 192.2M176.3 192.2L180.1 192.2L182 195.6L180.1 198.9M182 135.2L185.8 135.2L187.7 138.6L185.8 141.9M182 142L185.8 142L187.7 145.3L185.8 148.7M182 148.7L185.8 148.7L187.7 152L185.8 155.3M182 155.4L185.8 155.4L187.7 158.7L185.8 162.1M182 162.1L185.8 162.1L187.7 165.4L185.8 168.8M182 168.8L185.8 168.8L187.7 172.1L185.8 175.4M182 175.5L185.8 175.5L187.7 178.8L185.8 182.2M182 182.2L185.8 182.2L187.7 185.5L185.8 188.8M182 188.9L185.8 188.9L187.7 192.2L185.8 195.6M187.7 131.9L191.5 131.9L193.4 135.2L191.5 138.6M187.7 138.6L191.5 138.6L193.4 141.9L191.5 145.3M187.7 145.3L191.5 145.3L193.4 148.7L191.5 152M187.7 152L191.5 152L193.4 155.3L191.5 158.7M187.7 158.7L191.5 158.7L193.4 162.1L191.5 165.4M187.7 165.4L191.5 165.4L193.4 168.8L191.5 172.1M187.7 172.1L191.5 172.1L193.4 175.4L191.5 178.8M187.7 178.8L191.5 178.8L193.4 182.2L191.5 185.5M187.7 185.5L191.5 185.5L193.4 188.8L191.5 192.2M187.7 192.2L191.5 192.2L193.4 195.6L191.5 198.9" fill="none" stroke="#39444c" stroke-width="2.100"/></g>
<rect x="142.800" y="147.400" width="38" height="37" rx="5.500" fill="none" stroke="#39444c" stroke-width="1.300"/>
<circle cx="168.500" cy="240.700" r="11.300" fill="#fff" stroke="#39444c" stroke-width="0.800"/>
<circle cx="168.500" cy="240.700" r="9.300" fill="#fff" stroke="#39444c" stroke-width="1.400"/>
<path d="M160.500 238.800v3.800M176.500 238.800v3.800" stroke="#39444c" stroke-width="1.400"/>
<rect x="137.800" y="272" width="47.500" height="29.100" rx="3" fill="#fff" stroke="#39444c" stroke-width="1.500"/>
<path d="M161 312.400h28.900l5 9.600l0.500 8.200h-40.300l0.500-8.200z" fill="#fff" stroke="#39444c" stroke-width="1"/>
<rect x="161.500" y="313.300" width="28.400" height="16.400" fill="#39444c"/>
<rect x="162.900" y="317.800" width="7.700" height="8.700" fill="#fff"/><rect x="164.400" y="319.300" width="4.700" height="6" fill="#39444c"/>
<path d="M174 316v2.500M174 320v2M174 324v4" stroke="#fff" stroke-width="1.800"/>
<rect x="179.300" y="315.600" width="8.700" height="12.800" fill="#8f9395"/><rect x="180.700" y="317" width="5.900" height="10" fill="#39444c"/><path d="M182.300 320.500v5.500M185 320.500v5.500M183.600 319.500v2" stroke="#fff" stroke-width="1"/>
<circle cx="158.8" cy="322" r="2.200" fill="#39444c"/>
<circle cx="191.7" cy="322" r="2.200" fill="#39444c"/>
<circle cx="155.3" cy="328.4" r="2.200" fill="#39444c"/>
<circle cx="195" cy="328.4" r="2.200" fill="#39444c"/>
<rect x="36" y="316.100" width="9" height="8.400" fill="#fff" stroke="#39444c" stroke-width="1"/><rect x="37.200" y="317" width="6.600" height="5.600" fill="#39444c"/>
<rect x="28.300" y="133.700" width="20" height="66.300" rx="1" fill="#8f9395" stroke="#39444c" stroke-width="1.200"/>
<path d="M46.300 134v66" stroke="#39444c" stroke-width="1" fill="none"/>
<path d="M33 132.500h10M33 201.200h10" stroke="#39444c" stroke-width="1.400"/>
<rect x="35.300" y="137.800" width="6.300" height="16.400" rx="1.500" fill="#8f9395" stroke="#39444c" stroke-width="1.200"/>
<path d="M39.800 140v12" stroke="#39444c" stroke-width="1.200" stroke-dasharray="1.500 1"/>
<rect x="35.300" y="156.800" width="6.300" height="16" rx="1" fill="#39444c" stroke="#39444c" stroke-width="1.200"/>
<path d="M37.500 158.500v9M39.500 158.500v9" stroke="#8f9395" stroke-width="0.900"/>
<rect x="36.500" y="170" width="4" height="1.500" fill="#8f9395"/>
<circle cx="32.400" cy="179" r="2.300" fill="#39444c"/><circle cx="44.300" cy="179" r="2.300" fill="#39444c"/>
<path d="M36.800 177h3.200l2.800 17.800h-3l-1.400-9.500-1.400 9.500h-3z" fill="#39444c"/>
<rect x="48.800" y="137.300" width="11.500" height="7.500" fill="#39444c"/>
<rect x="53" y="139.300" width="3.900" height="4" fill="#19a355"/>
<rect x="60.300" y="138.700" width="5" height="4.600" fill="#39444c"/><path d="M62.500 138.700v4.600" stroke="#19a355" stroke-width="0.800"/>
<path d="M49.500 136.800h8M49.500 145.300h8" stroke="#19a355" stroke-width="0.600"/>
</g>
<g id="cfs-box">
<path d="M272.400 193.300H468L472.900 199.500V248H470.100V213.600L459.700 201.900H280.300L269.900 213.600V248H267.100V199.500Z" fill="#fff" stroke="#39444c" stroke-width="1" stroke-linejoin="round"/>
<path d="M280.300 201.900H459.700" stroke="#39444c" stroke-width="1.800"/>
<path d="M273.500 193.500v5.500l-6 1M273.500 199l6.500 2.800M466.500 193.500v5.500l6 1M466.500 199l-6.500 2.800" fill="none" stroke="#39444c" stroke-width="0.800"/>
<path d="M263 249.500H477.300V333Q477.300 349.800 460 349.800H280Q263 349.800 263 333Z" fill="#fff" stroke="#39444c" stroke-width="1.200"/>
<path d="M266 258.200V332Q266 347 281 347H459Q474.300 347 474.300 332V258.200" fill="none" stroke="#39444c" stroke-width="0.800"/>
<path d="M263 249.700H477.300" stroke="#39444c" stroke-width="2.600"/>
<path d="M263 255.800H477.300M263 258.200H477.300" stroke="#39444c" stroke-width="0.900"/>
<path d="M283.600 242.500v13M341.900 242.500v9.500M398.100 242.500v9.500M456.400 242.500v13M268.500 242.500v6M471.500 242.500v6" stroke="#39444c" stroke-width="2.200" stroke-linecap="round"/>
<circle cx="269.9" cy="261.400" r="2" fill="#39444c"/>
<circle cx="370" cy="261.400" r="2" fill="#39444c"/>
<circle cx="470.1" cy="261.400" r="2" fill="#39444c"/>
<rect x="259.300" y="281.300" width="3.700" height="18.300" fill="#fff" stroke="#39444c" stroke-width="0.900"/><rect x="477.300" y="281.300" width="3.500" height="18.300" fill="#fff" stroke="#39444c" stroke-width="0.900"/>
<path d="M261.200 284v13M479 284v13" stroke="#39444c" stroke-width="0.700"/>
<circle cx="311.900" cy="286.100" r="1" fill="#39444c"/><circle cx="311.900" cy="298" r="1" fill="#39444c"/>
<rect x="280.400" y="308.900" width="44.300" height="27.500" rx="2" fill="#fff" stroke="#39444c" stroke-width="1.300"/>
<path d="M280.800 349.800l2.500 4.600h27.700l2.500-4.600zM427.400 349.800l2.500 4.600h27l2.500-4.600z" fill="#fff" stroke="#39444c" stroke-width="0.900"/>
<path d="M283 353.200h28M429.500 353.200h28" stroke="#39444c" stroke-width="0.700"/>
<rect x="417.600" y="266.400" width="43.600" height="26.600" rx="4" fill="#fff" stroke="#39444c" stroke-width="1.300"/>
<circle cx="421.7" cy="271" r="2" fill="#39444c"/>
<circle cx="457.8" cy="271" r="2" fill="#39444c"/>
<circle cx="421.7" cy="288.8" r="2" fill="#39444c"/>
<circle cx="457.8" cy="288.8" r="2" fill="#39444c"/>
<rect x="430.800" y="274.800" width="7" height="7.500" rx="1" fill="#39444c"/><rect x="441" y="274.800" width="7" height="7.500" rx="1" fill="#39444c"/><rect x="437" y="276.500" width="5" height="4" fill="#39444c"/>
<rect x="432.800" y="277" width="3" height="3.500" fill="#0a9447"/><rect x="443" y="277" width="3" height="3.500" fill="#0a9447"/>
<ellipse cx="438.400" cy="318.100" rx="3" ry="4" fill="#fff" stroke="#39444c" stroke-width="1.700"/>
<path d="M438.800 322.500v9M437.300 333.500a1.600 2 0 1 0 3.200 0a1.600 2 0 1 0 -3.200 0M438.800 335.500v3.500" fill="none" stroke="#39444c" stroke-width="0.900"/>
<ellipse cx="370.400" cy="343.700" rx="2.400" ry="3.400" fill="#8f9395" stroke="#39444c" stroke-width="1.700"/>
<path d="M368 349h5v5.500h-5z" fill="#39444c"/><path d="M362.500 351.500v2.500M365.500 351.500v2.500M375.500 351.500v2.500M378 351.500v2.500" stroke="#39444c" stroke-width="0.800"/>
</g>
<g id="cables">
<path d="M167 322C167.1 323.4 167 327.8 167.5 330.2C168 332.6 168.7 334.3 170.2 336.6C171.7 338.9 174 341.5 176.6 343.9C179.2 346.3 182.6 349.3 185.7 351.2C188.8 353.1 191.8 354.3 194.9 355.4C198 356.5 200.9 356.9 204 357.6C207.1 358.3 205.5 358.7 213.2 359.5C220.9 360.3 235.5 361.6 250 362.4C264.5 363.2 280.3 363.8 300 364.3C319.7 364.8 348 365.3 368 365.3C388 365.3 403.3 365 420 364.5C436.7 364 451.3 364.1 468 362.5C484.7 360.9 503.3 358.8 520 355C536.7 351.2 556.3 345.5 568 340C579.7 334.5 584.2 328.7 590 322C595.8 315.3 599.9 308.7 603 300C606.1 291.3 607.7 280 608.5 270C609.3 260 608.1 249 608 240C607.9 231 607.8 220 607.7 216" fill="none" stroke="#39444c" stroke-width="4.2" stroke-linecap="butt"/><path d="M167 322C167.1 323.4 167 327.8 167.5 330.2C168 332.6 168.7 334.3 170.2 336.6C171.7 338.9 174 341.5 176.6 343.9C179.2 346.3 182.6 349.3 185.7 351.2C188.8 353.1 191.8 354.3 194.9 355.4C198 356.5 200.9 356.9 204 357.6C207.1 358.3 205.5 358.7 213.2 359.5C220.9 360.3 235.5 361.6 250 362.4C264.5 363.2 280.3 363.8 300 364.3C319.7 364.8 348 365.3 368 365.3C388 365.3 403.3 365 420 364.5C436.7 364 451.3 364.1 468 362.5C484.7 360.9 503.3 358.8 520 355C536.7 351.2 556.3 345.5 568 340C579.7 334.5 584.2 328.7 590 322C595.8 315.3 599.9 308.7 603 300C606.1 291.3 607.7 280 608.5 270C609.3 260 608.1 249 608 240C607.9 231 607.8 220 607.7 216" fill="none" stroke="#8f9395" stroke-width="2.7" stroke-linecap="butt"/>
<path d="M61.3 74.7C61.4 72.4 61.1 65.8 62 61C62.9 56.2 64.3 50.4 66.6 45.7C68.9 41 72.7 36.1 75.7 32.8C78.8 29.5 82.1 27.3 84.9 25.9C87.7 24.4 90 23.9 92.5 24.1C95 24.4 97.9 25.6 100.1 27.4C102.3 29.2 104.1 32.2 105.5 35C106.9 37.8 107.8 42.5 108.3 44" fill="none" stroke="#39444c" stroke-width="3.6" stroke-linecap="butt"/><path d="M61.3 74.7C61.4 72.4 61.1 65.8 62 61C62.9 56.2 64.3 50.4 66.6 45.7C68.9 41 72.7 36.1 75.7 32.8C78.8 29.5 82.1 27.3 84.9 25.9C87.7 24.4 90 23.9 92.5 24.1C95 24.4 97.9 25.6 100.1 27.4C102.3 29.2 104.1 32.2 105.5 35C106.9 37.8 107.8 42.5 108.3 44" fill="none" stroke="#fff" stroke-width="2.3" stroke-linecap="butt"/>
<path d="M38.6 133C38.7 127.5 38.6 109.5 39 100C39.4 90.5 39.7 83.2 40.7 76.2C41.7 69.2 43.2 63.7 45.2 57.9C47.2 52.1 49.9 46.4 52.9 41.2C55.9 36 59.7 30.5 63.5 26.7C67.3 22.9 71.6 20.2 75.7 18.3C79.8 16.4 84.3 15.1 87.9 15.2C91.5 15.3 94.3 16.4 97.1 19C99.9 21.6 102.8 26.1 104.7 30.5C106.6 35 107.6 40.6 108.5 45.7C109.4 50.8 109.7 54.7 110 61C110.3 67.3 110.2 79.8 110.3 83.5" fill="none" stroke="#39444c" stroke-width="2.7" stroke-linecap="butt"/><path d="M38.6 133C38.7 127.5 38.6 109.5 39 100C39.4 90.5 39.7 83.2 40.7 76.2C41.7 69.2 43.2 63.7 45.2 57.9C47.2 52.1 49.9 46.4 52.9 41.2C55.9 36 59.7 30.5 63.5 26.7C67.3 22.9 71.6 20.2 75.7 18.3C79.8 16.4 84.3 15.1 87.9 15.2C91.5 15.3 94.3 16.4 97.1 19C99.9 21.6 102.8 26.1 104.7 30.5C106.6 35 107.6 40.6 108.5 45.7C109.4 50.8 109.7 54.7 110 61C110.3 67.3 110.2 79.8 110.3 83.5" fill="none" stroke="#d9ab2b" stroke-width="1.5" stroke-linecap="butt"/>
<path d="M41.3 200.5C41.4 205.1 41 218.9 42 228C43 237.1 44.6 245.8 47 255C49.4 264.2 53.2 274.7 56.5 283C59.8 291.3 62.5 298.2 66.7 304.7C71 311.2 76.5 317 82 322C87.5 327 93.3 331.5 100 334.7C106.7 337.9 113.7 339.3 122 341C130.3 342.7 138.7 343.8 150 344.7C161.3 345.6 176.2 346.1 190 346.5C203.8 346.9 214.7 347.1 233 347C251.3 346.9 277.4 346.6 300 346C322.6 345.4 357.3 344 368.8 343.6" fill="none" stroke="#39444c" stroke-width="2.6" stroke-linecap="butt"/><path d="M41.3 200.5C41.4 205.1 41 218.9 42 228C43 237.1 44.6 245.8 47 255C49.4 264.2 53.2 274.7 56.5 283C59.8 291.3 62.5 298.2 66.7 304.7C71 311.2 76.5 317 82 322C87.5 327 93.3 331.5 100 334.7C106.7 337.9 113.7 339.3 122 341C130.3 342.7 138.7 343.8 150 344.7C161.3 345.6 176.2 346.1 190 346.5C203.8 346.9 214.7 347.1 233 347C251.3 346.9 277.4 346.6 300 346C322.6 345.4 357.3 344 368.8 343.6" fill="none" stroke="#d9ab2b" stroke-width="1.5" stroke-linecap="butt"/>
<path d="M65 141C66.3 141.1 69.9 140 72.8 141.4C75.7 142.8 79.8 145.6 82.5 149.7C85.2 153.8 87.2 160 89.3 166.2C91.3 172.4 93 179 94.8 186.8C96.6 194.6 98.1 204.7 100.3 212.9C102.5 221.1 104.7 228.5 108 236C111.3 243.5 115.5 251.3 120 258C124.5 264.7 129 271 134.8 276.4C140.6 281.8 148 286.1 154.6 290.2C161.2 294.3 167.8 297.8 174.4 301.1C181 304.4 187.4 307.4 194.2 310C201 312.6 205.7 314.6 215 317C224.3 319.4 238.4 322.3 250 324.7C261.6 327.1 271.7 330.1 284.3 331.6C296.9 333.2 312.8 333.9 325.4 334C338 334.1 348.5 334 360 332.2C371.5 330.4 384.8 327 394.3 323.1C403.8 319.2 411.4 313.8 417.1 309C422.8 304.2 425.6 299.4 428.5 294.6C431.4 289.8 433.3 282.4 434.3 280" fill="none" stroke="#39444c" stroke-width="3.5" stroke-linecap="butt"/><path d="M65 141C66.3 141.1 69.9 140 72.8 141.4C75.7 142.8 79.8 145.6 82.5 149.7C85.2 153.8 87.2 160 89.3 166.2C91.3 172.4 93 179 94.8 186.8C96.6 194.6 98.1 204.7 100.3 212.9C102.5 221.1 104.7 228.5 108 236C111.3 243.5 115.5 251.3 120 258C124.5 264.7 129 271 134.8 276.4C140.6 281.8 148 286.1 154.6 290.2C161.2 294.3 167.8 297.8 174.4 301.1C181 304.4 187.4 307.4 194.2 310C201 312.6 205.7 314.6 215 317C224.3 319.4 238.4 322.3 250 324.7C261.6 327.1 271.7 330.1 284.3 331.6C296.9 333.2 312.8 333.9 325.4 334C338 334.1 348.5 334 360 332.2C371.5 330.4 384.8 327 394.3 323.1C403.8 319.2 411.4 313.8 417.1 309C422.8 304.2 425.6 299.4 428.5 294.6C431.4 289.8 433.3 282.4 434.3 280" fill="none" stroke="#0a9447" stroke-width="2.3" stroke-linecap="butt"/>
<path d="M40.2 320C40.3 322.2 40 328.6 41 333C42 337.4 43.7 342.3 46 346.5C48.3 350.7 51.5 354.6 55 358C58.5 361.4 60 363.3 66.7 366.7C73.4 370.1 84 375.1 95 378.5C106 381.9 118.8 384.8 133 387C147.2 389.2 163.3 390.6 180 391.5C196.7 392.4 213.7 392.6 233 392.5C252.3 392.4 277.6 391.8 295.7 391C313.8 390.2 326.9 390.2 341.4 387.8C355.9 385.4 372.1 380.4 382.8 376.8C393.5 373.2 398.1 371.6 405.7 366.5C413.3 361.4 423 353.2 428.5 346C434 338.8 436.3 331.5 438.8 323.1C441.3 314.7 442.4 302.9 443.4 295.7C444.3 288.5 444.3 282.6 444.5 280" fill="none" stroke="#39444c" stroke-width="3.5" stroke-linecap="butt"/><path d="M40.2 320C40.3 322.2 40 328.6 41 333C42 337.4 43.7 342.3 46 346.5C48.3 350.7 51.5 354.6 55 358C58.5 361.4 60 363.3 66.7 366.7C73.4 370.1 84 375.1 95 378.5C106 381.9 118.8 384.8 133 387C147.2 389.2 163.3 390.6 180 391.5C196.7 392.4 213.7 392.6 233 392.5C252.3 392.4 277.6 391.8 295.7 391C313.8 390.2 326.9 390.2 341.4 387.8C355.9 385.4 372.1 380.4 382.8 376.8C393.5 373.2 398.1 371.6 405.7 366.5C413.3 361.4 423 353.2 428.5 346C434 338.8 436.3 331.5 438.8 323.1C441.3 314.7 442.4 302.9 443.4 295.7C444.3 288.5 444.3 282.6 444.5 280" fill="none" stroke="#0a9447" stroke-width="2.3" stroke-linecap="butt"/>
<path d="M602.300 174.900h10.400l6.900 7.100v14.600l-6.300 5.400h-11.600l-6.500-5.400v-14.600z" fill="#8f9395" stroke="#39444c" stroke-width="1.200" stroke-linejoin="round"/>
<rect x="593.200" y="187" width="2.200" height="3.700" fill="#8f9395" stroke="#39444c" stroke-width="0.800"/><rect x="619.500" y="187" width="2.200" height="3.700" fill="#8f9395" stroke="#39444c" stroke-width="0.800"/>
<path d="M603.300 175.500v9l-1.800 2.500v14.500M611.700 175.500v9l1.800 2.500v14.500M603.300 184.500h8.400" fill="none" stroke="#39444c" stroke-width="1.100"/>
<rect x="602.300" y="202" width="10.400" height="4" fill="#8f9395" stroke="#39444c" stroke-width="0.900"/>
<path d="M602.700 206h9.600l-0.700 8.500h-8.200z" fill="#39444c"/>
<rect x="604" y="214.500" width="7.400" height="3" fill="#8f9395" stroke="#39444c" stroke-width="0.800"/>
</g>
<clipPath id="bp"><rect x="9" y="417" width="624" height="181" rx="6"/></clipPath><g id="install-view" clip-path="url(#bp)"><path d="M64.900 574.700L119.800 538.100M80 515L107 498.300" fill="none" stroke="#39444c" stroke-width="1"/>
<path d="M25.200 597.600L39.700 575.500M27.500 598L40.500 579M30.500 598L40.500 584" fill="none" stroke="#39444c" stroke-width="0.9"/>
<path d="M66.700 417L205 426V438.400L100 426.800L66.700 419Z" fill="#eef0f0" stroke="#39444c" stroke-width="0.8" stroke-linejoin="round"/>
<path d="M66.700 417L205 426M67 417.600L205 430.600M67.500 418.200L200 435.100M68 418.800L200 438.400" fill="none" stroke="#39444c" stroke-width="1.4"/>
<path d="M106.500 418.500l13 1.300M106.500 423.200l13 1.700M150 421.500l22 1.500" fill="none" stroke="#39444c" stroke-width="2"/>
<path d="M47.200 433.200L66.600 417.800M49.500 435L69 419.500" fill="none" stroke="#39444c" stroke-width="0.9"/>
<path d="M53.600 429.500L66 428.800L69.500 431V436.500L57 437.500L53.600 435.500Z" fill="#eef0f0" stroke="#39444c" stroke-width="0.9" stroke-linejoin="round"/>
<path d="M53.600 432L66 431.500L69.500 433.500M66 431.500V437" fill="none" stroke="#39444c" stroke-width="0.8"/>
<path d="M123.200 428.500H130V481H123.200Z" fill="#eef0f0" stroke="#39444c" stroke-width="0.9" stroke-linejoin="round"/>
<path d="M124.600 428.500V481M127.500 429V481M133.500 430V458M137.300 430.500V458" fill="none" stroke="#39444c" stroke-width="0.9"/>
<rect x="142.700" y="430.600" width="5.300" height="34" fill="#39444c"/>
<path d="M140.500 431V458" fill="none" stroke="#39444c" stroke-width="0.7"/>
<circle cx="140.800" cy="444" r="0.800" fill="#39444c"/>
<path d="M129.700 459H139V464L148 466.500L153 463.500L158.500 467.500V478L165.500 480L129.700 473Z" fill="#eef0f0" stroke="#39444c" stroke-width="0.9" stroke-linejoin="round"/>
<path d="M153 463.500V475M158.500 467.500L153.500 470.500V478M130 463.500H139" fill="none" stroke="#39444c" stroke-width="0.9"/>
<path d="M138 463.500h10.500l3 3.500h-13z" fill="#39444c"/><path d="M157 476l6 1.500v2.500l-6-1z" fill="#39444c"/>
<path d="M124.500 479.500L130 475.500L138 477L132 481.500Z" fill="#eef0f0" stroke="#39444c" stroke-width="0.8" stroke-linejoin="round"/>
<path d="M138 477L200.600 487.500" fill="none" stroke="#39444c" stroke-width="0.8"/>
<path d="M191.500 446.600H200.600V472.500H191.500Z" fill="#eef0f0" stroke="#39444c" stroke-width="0.8" stroke-linejoin="round"/>
<path d="M194 447V466M191.500 466H200.600" fill="none" stroke="#39444c" stroke-width="0.8"/>
<rect x="194.600" y="448" width="2.600" height="17" fill="#c9cccd"/>
<path d="M171.600 422.200L204.400 425.200V462.600Z" fill="#eef0f0" stroke="#39444c" stroke-width="0.9" stroke-linejoin="round"/>
<path d="M185.400 431.300L199.100 432.900L198.300 445.800Z" fill="#eef0f0" stroke="#39444c" stroke-width="0.9" stroke-linejoin="round"/>
<path d="M188 434.500l10.500 1.200M190.500 437.500l8 1M193 440.500l5.500 0.700M195.500 443.300l3 0.400" fill="none" stroke="#39444c" stroke-width="0.9"/>
<circle cx="177.7" cy="424.8" r="1.700" fill="#39444c"/>
<circle cx="194.5" cy="428" r="1.700" fill="#39444c"/>
<circle cx="202.1" cy="437.4" r="1.700" fill="#39444c"/>
<circle cx="201.8" cy="455.3" r="1.700" fill="#39444c"/>
<path d="M54 566L66 558L72.500 561V572L60 580L54 578Z" fill="#eef0f0" stroke="#39444c" stroke-width="0.9" stroke-linejoin="round"/>
<path d="M54 570L66 562.500M54 574L66 566.500M66 558V570" fill="none" stroke="#39444c" stroke-width="0.9"/>
<rect x="59.300" y="437" width="5.600" height="162" fill="#39444c"/>
<path d="M52.700 436V598M55 436V598" fill="none" stroke="#39444c" stroke-width="0.8"/>
<path d="M72.400 512.800L80.100 510.800L199.700 535.500V545L190 549.500L108 533L84 539L76 536Z" fill="#eef0f0" stroke="#39444c" stroke-width="1.2" stroke-linejoin="round"/>
<path d="M80.100 518.300L199.700 540.500M84 524.300L196 547" fill="none" stroke="#39444c" stroke-width="1.5"/>
<path d="M80.100 515.500L199.700 537.800" fill="none" stroke="#39444c" stroke-width="1"/>
<path d="M76 536L115 529.500Q118 529 118.500 532.500L120 536L190 549.500" fill="none" stroke="#39444c" stroke-width="0.9"/>
<path d="M78 538.500L112 532.500" fill="none" stroke="#39444c" stroke-width="0.8"/>
<path d="M71 514.500L77.500 511L84.700 513L78 516.800Z" fill="#eef0f0" stroke="#39444c" stroke-width="0.8" stroke-linejoin="round"/>
<rect x="176" y="541.5" width="2.500" height="2.500" rx="0.800" fill="#eef0f0" stroke="#39444c" stroke-width="0.700"/>
<rect x="181" y="542.5" width="2.500" height="2.500" rx="0.800" fill="#eef0f0" stroke="#39444c" stroke-width="0.700"/>
<rect x="186" y="543.5" width="2.500" height="2.500" rx="0.800" fill="#eef0f0" stroke="#39444c" stroke-width="0.700"/>
<rect x="191" y="544.5" width="2.500" height="2.500" rx="0.800" fill="#eef0f0" stroke="#39444c" stroke-width="0.700"/>
<path d="M53.400 519L62 515.500L71 519L75.500 524V537L68 539.500V528L60 526L53.400 528Z" fill="#eef0f0" stroke="#39444c" stroke-width="0.9" stroke-linejoin="round"/>
<path d="M55 514.500h6v6h-6z" fill="#39444c"/>
<path d="M68 528L75.500 524M57 521l8 2" fill="none" stroke="#39444c" stroke-width="0.9"/>
<path d="M68 535l7-2v4.500l-7 2z" fill="#39444c"/>
<ellipse cx="167.900" cy="550.400" rx="3" ry="1.300" fill="#39444c"/><ellipse cx="154.900" cy="559.100" rx="3" ry="1.300" fill="#39444c"/>
<path d="M47.200 469.300L200.600 495.400V513L47.200 484.500Z" fill="#eef0f0" stroke="#39444c" stroke-width="0.8" stroke-linejoin="round"/>
<path d="M47.2 469.8L200.6 495.9M47.2 473.1L200.6 499.2" fill="none" stroke="#39444c" stroke-width="1.5"/>
<path d="M47.2 477.1L200.6 503.8M47.2 481.9L200.6 509.2" fill="none" stroke="#39444c" stroke-width="0.9"/>
<path d="M47.2 485.6L200.6 513.8" fill="none" stroke="#39444c" stroke-width="1.7"/>
<circle cx="49.5" cy="471.5" r="1.600" fill="#39444c"/>
<circle cx="49.5" cy="483" r="1.600" fill="#39444c"/>
<circle cx="202" cy="498" r="1.600" fill="#39444c"/>
<circle cx="202" cy="511.5" r="1.600" fill="#39444c"/>
<path d="M40.500 417H47.300V598H40.500Z" fill="#eef0f0" stroke="#39444c" stroke-width="0.9" stroke-linejoin="round"/>
<path d="M42.600 417V598M45.600 417V598" fill="none" stroke="#39444c" stroke-width="0.8"/>
<circle cx="48.800" cy="426.5" r="1.500" fill="#39444c"/>
<circle cx="48.800" cy="505" r="1.500" fill="#39444c"/>
<circle cx="48.800" cy="588" r="1.500" fill="#39444c"/>
<path d="M200.600 598V428Q200.600 424.500 204 425.200Q207.500 426 207.500 430V598" fill="#eef0f0" stroke="#39444c" stroke-width="0.9" stroke-linejoin="round"/>
<path d="M204.200 428V598" fill="none" stroke="#39444c" stroke-width="0.8"/>
<circle cx="204.200" cy="533" r="1" fill="#39444c"/>
<path d="M207.500 431L218 430M207.500 433.500L218 432.500" fill="none" stroke="#39444c" stroke-width="0.8" stroke-linejoin="round"/>
<path d="M218.800 598V432Q218.800 420 228 417.500" fill="none" stroke="#39444c" stroke-width="2.2"/>
<path d="M222 598V434Q222 423 230 419.500" fill="none" stroke="#39444c" stroke-width="0.8"/>
<path d="M209 420.500l-2 4.500" fill="none" stroke="#39444c" stroke-width="0.8"/>
<circle cx="225" cy="423.500" r="1.300" fill="#39444c"/><circle cx="221.500" cy="433.500" r="1.500" fill="#39444c"/><circle cx="220.500" cy="521.500" r="1.400" fill="#39444c"/>
<clipPath id="pp1"><path d="M222.600 444.300L257.600 419.900V600H222.600Z"/></clipPath><path d="M222.600 444.300L257.600 419.900V600H222.600Z" fill="#f2f3f3"/><g clip-path="url(#pp1)" fill="none" stroke-linejoin="round"><path id="pp1g" d="M218.1 408.1L222.5 405.2L224.7 411L222.5 419.8M218.1 422.7L222.5 419.8L224.7 425.6L222.5 434.4M218.1 437.3L222.5 434.4L224.7 440.2L222.5 449M218.1 451.9L222.5 449L224.7 454.8L222.5 463.6M218.1 466.4L222.5 463.6L224.7 469.4L222.5 478.1M218.1 481L222.5 478.1L224.7 484L222.5 492.7M218.1 495.6L222.5 492.7L224.7 498.6L222.5 507.3M218.1 510.2L222.5 507.3L224.7 513.2L222.5 521.9M218.1 524.8L222.5 521.9L224.7 527.8L222.5 536.5M218.1 539.4L222.5 536.5L224.7 542.4L222.5 551.1M218.1 554L222.5 551.1L224.7 557L222.5 565.7M218.1 568.6L222.5 565.7L224.7 571.6L222.5 580.3M218.1 583.2L222.5 580.3L224.7 586.1L222.5 594.9M218.1 597.8L222.5 594.9L224.7 600.7L222.5 609.5M224.7 411L229.1 408.2L231.2 414L229.1 422.7M224.7 425.6L229.1 422.7L231.2 428.6L229.1 437.3M224.7 440.2L229.1 437.3L231.2 443.2L229.1 451.9M224.7 454.8L229.1 451.9L231.2 457.8L229.1 466.5M224.7 469.4L229.1 466.5L231.2 472.4L229.1 481.1M224.7 484L229.1 481.1L231.2 487L229.1 495.7M224.7 498.6L229.1 495.7L231.2 501.6L229.1 510.3M224.7 513.2L229.1 510.3L231.2 516.1L229.1 524.9M224.7 527.8L229.1 524.9L231.2 530.7L229.1 539.5M224.7 542.4L229.1 539.5L231.2 545.3L229.1 554.1M224.7 557L229.1 554.1L231.2 559.9L229.1 568.7M224.7 571.6L229.1 568.7L231.2 574.5L229.1 583.3M224.7 586.1L229.1 583.3L231.2 589.1L229.1 597.8M224.7 600.7L229.1 597.8L231.2 603.7L229.1 612.4M231.2 414L235.6 411.1L237.8 417L235.6 425.7M231.2 428.6L235.6 425.7L237.8 431.6L235.6 440.3M231.2 443.2L235.6 440.3L237.8 446.1L235.6 454.9M231.2 457.8L235.6 454.9L237.8 460.7L235.6 469.5M231.2 472.4L235.6 469.5L237.8 475.3L235.6 484.1M231.2 487L235.6 484.1L237.8 489.9L235.6 498.7M231.2 501.6L235.6 498.7L237.8 504.5L235.6 513.3M231.2 516.1L235.6 513.3L237.8 519.1L235.6 527.8M231.2 530.7L235.6 527.8L237.8 533.7L235.6 542.4M231.2 545.3L235.6 542.4L237.8 548.3L235.6 557M231.2 559.9L235.6 557L237.8 562.9L235.6 571.6M231.2 574.5L235.6 571.6L237.8 577.5L235.6 586.2M231.2 589.1L235.6 586.2L237.8 592.1L235.6 600.8M231.2 603.7L235.6 600.8L237.8 606.7L235.6 615.4M237.8 402.4L242.2 399.5L244.4 405.3L242.2 414.1M237.8 417L242.2 414.1L244.4 419.9L242.2 428.7M237.8 431.6L242.2 428.7L244.4 434.5L242.2 443.3M237.8 446.1L242.2 443.3L244.4 449.1L242.2 457.9M237.8 460.7L242.2 457.9L244.4 463.7L242.2 472.4M237.8 475.3L242.2 472.4L244.4 478.3L242.2 487M237.8 489.9L242.2 487L244.4 492.9L242.2 501.6M237.8 504.5L242.2 501.6L244.4 507.5L242.2 516.2M237.8 519.1L242.2 516.2L244.4 522.1L242.2 530.8M237.8 533.7L242.2 530.8L244.4 536.7L242.2 545.4M237.8 548.3L242.2 545.4L244.4 551.3L242.2 560M237.8 562.9L242.2 560L244.4 565.8L242.2 574.6M237.8 577.5L242.2 574.6L244.4 580.4L242.2 589.2M237.8 592.1L242.2 589.2L244.4 595L242.2 603.8M244.4 405.3L248.8 402.4L250.9 408.3L248.8 417M244.4 419.9L248.8 417L250.9 422.9L248.8 431.6M244.4 434.5L248.8 431.6L250.9 437.5L248.8 446.2M244.4 449.1L248.8 446.2L250.9 452.1L248.8 460.8M244.4 463.7L248.8 460.8L250.9 466.7L248.8 475.4M244.4 478.3L248.8 475.4L250.9 481.3L248.8 490M244.4 492.9L248.8 490L250.9 495.8L248.8 504.6M244.4 507.5L248.8 504.6L250.9 510.4L248.8 519.2M244.4 522.1L248.8 519.2L250.9 525L248.8 533.8M244.4 536.7L248.8 533.8L250.9 539.6L248.8 548.4M244.4 551.3L248.8 548.4L250.9 554.2L248.8 563M244.4 565.8L248.8 563L250.9 568.8L248.8 577.5M244.4 580.4L248.8 577.5L250.9 583.4L248.8 592.1M244.4 595L248.8 592.1L250.9 598L248.8 606.7M250.9 408.3L255.3 405.4L257.5 411.3L255.3 420M250.9 422.9L255.3 420L257.5 425.9L255.3 434.6M250.9 437.5L255.3 434.6L257.5 440.4L255.3 449.2M250.9 452.1L255.3 449.2L257.5 455L255.3 463.8M250.9 466.7L255.3 463.8L257.5 469.6L255.3 478.4M250.9 481.3L255.3 478.4L257.5 484.2L255.3 493M250.9 495.8L255.3 493L257.5 498.8L255.3 507.6M250.9 510.4L255.3 507.6L257.5 513.4L255.3 522.1M250.9 525L255.3 522.1L257.5 528L255.3 536.7M250.9 539.6L255.3 536.7L257.5 542.6L255.3 551.3M250.9 554.2L255.3 551.3L257.5 557.2L255.3 565.9M250.9 568.8L255.3 565.9L257.5 571.8L255.3 580.5M250.9 583.4L255.3 580.5L257.5 586.4L255.3 595.1M250.9 598L255.3 595.1L257.5 601L255.3 609.7M257.5 411.3L261.9 408.4L264.1 414.2L261.9 423M257.5 425.9L261.9 423L264.1 428.8L261.9 437.6M257.5 440.4L261.9 437.6L264.1 443.4L261.9 452.1M257.5 455L261.9 452.1L264.1 458L261.9 466.7M257.5 469.6L261.9 466.7L264.1 472.6L261.9 481.3M257.5 484.2L261.9 481.3L264.1 487.2L261.9 495.9M257.5 498.8L261.9 495.9L264.1 501.8L261.9 510.5M257.5 513.4L261.9 510.5L264.1 516.4L261.9 525.1M257.5 528L261.9 525.1L264.1 531L261.9 539.7M257.5 542.6L261.9 539.7L264.1 545.6L261.9 554.3M257.5 557.2L261.9 554.3L264.1 560.1L261.9 568.9M257.5 571.8L261.9 568.9L264.1 574.7L261.9 583.5M257.5 586.4L261.9 583.5L264.1 589.3L261.9 598.1M257.5 601L261.9 598.1L264.1 603.9L261.9 612.7" stroke="#39444c" stroke-width="3"/><path d="M218.1 408.1L222.5 405.2L224.7 411L222.5 419.8M218.1 422.7L222.5 419.8L224.7 425.6L222.5 434.4M218.1 437.3L222.5 434.4L224.7 440.2L222.5 449M218.1 451.9L222.5 449L224.7 454.8L222.5 463.6M218.1 466.4L222.5 463.6L224.7 469.4L222.5 478.1M218.1 481L222.5 478.1L224.7 484L222.5 492.7M218.1 495.6L222.5 492.7L224.7 498.6L222.5 507.3M218.1 510.2L222.5 507.3L224.7 513.2L222.5 521.9M218.1 524.8L222.5 521.9L224.7 527.8L222.5 536.5M218.1 539.4L222.5 536.5L224.7 542.4L222.5 551.1M218.1 554L222.5 551.1L224.7 557L222.5 565.7M218.1 568.6L222.5 565.7L224.7 571.6L222.5 580.3M218.1 583.2L222.5 580.3L224.7 586.1L222.5 594.9M218.1 597.8L222.5 594.9L224.7 600.7L222.5 609.5M224.7 411L229.1 408.2L231.2 414L229.1 422.7M224.7 425.6L229.1 422.7L231.2 428.6L229.1 437.3M224.7 440.2L229.1 437.3L231.2 443.2L229.1 451.9M224.7 454.8L229.1 451.9L231.2 457.8L229.1 466.5M224.7 469.4L229.1 466.5L231.2 472.4L229.1 481.1M224.7 484L229.1 481.1L231.2 487L229.1 495.7M224.7 498.6L229.1 495.7L231.2 501.6L229.1 510.3M224.7 513.2L229.1 510.3L231.2 516.1L229.1 524.9M224.7 527.8L229.1 524.9L231.2 530.7L229.1 539.5M224.7 542.4L229.1 539.5L231.2 545.3L229.1 554.1M224.7 557L229.1 554.1L231.2 559.9L229.1 568.7M224.7 571.6L229.1 568.7L231.2 574.5L229.1 583.3M224.7 586.1L229.1 583.3L231.2 589.1L229.1 597.8M224.7 600.7L229.1 597.8L231.2 603.7L229.1 612.4M231.2 414L235.6 411.1L237.8 417L235.6 425.7M231.2 428.6L235.6 425.7L237.8 431.6L235.6 440.3M231.2 443.2L235.6 440.3L237.8 446.1L235.6 454.9M231.2 457.8L235.6 454.9L237.8 460.7L235.6 469.5M231.2 472.4L235.6 469.5L237.8 475.3L235.6 484.1M231.2 487L235.6 484.1L237.8 489.9L235.6 498.7M231.2 501.6L235.6 498.7L237.8 504.5L235.6 513.3M231.2 516.1L235.6 513.3L237.8 519.1L235.6 527.8M231.2 530.7L235.6 527.8L237.8 533.7L235.6 542.4M231.2 545.3L235.6 542.4L237.8 548.3L235.6 557M231.2 559.9L235.6 557L237.8 562.9L235.6 571.6M231.2 574.5L235.6 571.6L237.8 577.5L235.6 586.2M231.2 589.1L235.6 586.2L237.8 592.1L235.6 600.8M231.2 603.7L235.6 600.8L237.8 606.7L235.6 615.4M237.8 402.4L242.2 399.5L244.4 405.3L242.2 414.1M237.8 417L242.2 414.1L244.4 419.9L242.2 428.7M237.8 431.6L242.2 428.7L244.4 434.5L242.2 443.3M237.8 446.1L242.2 443.3L244.4 449.1L242.2 457.9M237.8 460.7L242.2 457.9L244.4 463.7L242.2 472.4M237.8 475.3L242.2 472.4L244.4 478.3L242.2 487M237.8 489.9L242.2 487L244.4 492.9L242.2 501.6M237.8 504.5L242.2 501.6L244.4 507.5L242.2 516.2M237.8 519.1L242.2 516.2L244.4 522.1L242.2 530.8M237.8 533.7L242.2 530.8L244.4 536.7L242.2 545.4M237.8 548.3L242.2 545.4L244.4 551.3L242.2 560M237.8 562.9L242.2 560L244.4 565.8L242.2 574.6M237.8 577.5L242.2 574.6L244.4 580.4L242.2 589.2M237.8 592.1L242.2 589.2L244.4 595L242.2 603.8M244.4 405.3L248.8 402.4L250.9 408.3L248.8 417M244.4 419.9L248.8 417L250.9 422.9L248.8 431.6M244.4 434.5L248.8 431.6L250.9 437.5L248.8 446.2M244.4 449.1L248.8 446.2L250.9 452.1L248.8 460.8M244.4 463.7L248.8 460.8L250.9 466.7L248.8 475.4M244.4 478.3L248.8 475.4L250.9 481.3L248.8 490M244.4 492.9L248.8 490L250.9 495.8L248.8 504.6M244.4 507.5L248.8 504.6L250.9 510.4L248.8 519.2M244.4 522.1L248.8 519.2L250.9 525L248.8 533.8M244.4 536.7L248.8 533.8L250.9 539.6L248.8 548.4M244.4 551.3L248.8 548.4L250.9 554.2L248.8 563M244.4 565.8L248.8 563L250.9 568.8L248.8 577.5M244.4 580.4L248.8 577.5L250.9 583.4L248.8 592.1M244.4 595L248.8 592.1L250.9 598L248.8 606.7M250.9 408.3L255.3 405.4L257.5 411.3L255.3 420M250.9 422.9L255.3 420L257.5 425.9L255.3 434.6M250.9 437.5L255.3 434.6L257.5 440.4L255.3 449.2M250.9 452.1L255.3 449.2L257.5 455L255.3 463.8M250.9 466.7L255.3 463.8L257.5 469.6L255.3 478.4M250.9 481.3L255.3 478.4L257.5 484.2L255.3 493M250.9 495.8L255.3 493L257.5 498.8L255.3 507.6M250.9 510.4L255.3 507.6L257.5 513.4L255.3 522.1M250.9 525L255.3 522.1L257.5 528L255.3 536.7M250.9 539.6L255.3 536.7L257.5 542.6L255.3 551.3M250.9 554.2L255.3 551.3L257.5 557.2L255.3 565.9M250.9 568.8L255.3 565.9L257.5 571.8L255.3 580.5M250.9 583.4L255.3 580.5L257.5 586.4L255.3 595.1M250.9 598L255.3 595.1L257.5 601L255.3 609.7M257.5 411.3L261.9 408.4L264.1 414.2L261.9 423M257.5 425.9L261.9 423L264.1 428.8L261.9 437.6M257.5 440.4L261.9 437.6L264.1 443.4L261.9 452.1M257.5 455L261.9 452.1L264.1 458L261.9 466.7M257.5 469.6L261.9 466.7L264.1 472.6L261.9 481.3M257.5 484.2L261.9 481.3L264.1 487.2L261.9 495.9M257.5 498.8L261.9 495.9L264.1 501.8L261.9 510.5M257.5 513.4L261.9 510.5L264.1 516.4L261.9 525.1M257.5 528L261.9 525.1L264.1 531L261.9 539.7M257.5 542.6L261.9 539.7L264.1 545.6L261.9 554.3M257.5 557.2L261.9 554.3L264.1 560.1L261.9 568.9M257.5 571.8L261.9 568.9L264.1 574.7L261.9 583.5M257.5 586.4L261.9 583.5L264.1 589.3L261.9 598.1M257.5 601L261.9 598.1L264.1 603.9L261.9 612.7" stroke="#a5abae" stroke-width="0.800"/></g><path d="M222.600 444.300L257.600 419.900V600H222.600Z" fill="none" stroke="#39444c" stroke-width="1.300"/>
<path d="M243.500 453.500L257.600 447.400V483.200L243.500 490Z" fill="#eef0f0" stroke="#39444c" stroke-width="1" stroke-linejoin="round"/>
<path d="M243.500 466L257.600 481M245 453v36.500" fill="none" stroke="#39444c" stroke-width="0.8"/>
<path d="M241.800 454.500h1.700v36h-1.700z" fill="#8f9395"/>
<clipPath id="pp2"><path d="M264.800 415H299.900V566Q299.900 568.600 297.500 570L267 589.500Q264.800 590.500 264.800 588Z"/></clipPath><path d="M264.800 415H299.900V566Q299.900 568.600 297.500 570L267 589.500Q264.800 590.500 264.800 588Z" fill="#f2f3f3"/><g clip-path="url(#pp2)" fill="none" stroke-linejoin="round"><path id="pp2g" d="M260.4 404.4L264.8 401.7L267 407.6L264.8 416.3M260.4 419L264.8 416.3L267 422.2L264.8 430.9M260.4 433.6L264.8 430.9L267 436.8L264.8 445.4M260.4 448.2L264.8 445.4L267 451.4L264.8 460M260.4 462.8L264.8 460L267 466L264.8 474.6M260.4 477.3L264.8 474.6L267 480.6L264.8 489.2M260.4 491.9L264.8 489.2L267 495.2L264.8 503.8M260.4 506.5L264.8 503.8L267 509.8L264.8 518.4M260.4 521.1L264.8 518.4L267 524.3L264.8 533M260.4 535.7L264.8 533L267 538.9L264.8 547.6M260.4 550.3L264.8 547.6L267 553.5L264.8 562.2M260.4 564.9L264.8 562.2L267 568.1L264.8 576.8M260.4 579.5L264.8 576.8L267 582.7L264.8 591.4M260.4 594.1L264.8 591.4L267 597.3L264.8 606M267 407.6L271.4 404.9L273.5 410.8L271.4 419.5M267 422.2L271.4 419.5L273.5 425.4L271.4 434.1M267 436.8L271.4 434.1L273.5 440L271.4 448.7M267 451.4L271.4 448.7L273.5 454.6L271.4 463.3M267 466L271.4 463.3L273.5 469.2L271.4 477.9M267 480.6L271.4 477.9L273.5 483.8L271.4 492.4M267 495.2L271.4 492.4L273.5 498.4L271.4 507M267 509.8L271.4 507L273.5 513L271.4 521.6M267 524.3L271.4 521.6L273.5 527.6L271.4 536.2M267 538.9L271.4 536.2L273.5 542.2L271.4 550.8M267 553.5L271.4 550.8L273.5 556.8L271.4 565.4M267 568.1L271.4 565.4L273.5 571.3L271.4 580M267 582.7L271.4 580L273.5 585.9L271.4 594.6M273.5 410.8L277.9 408.1L280.1 414.1L277.9 422.7M273.5 425.4L277.9 422.7L280.1 428.7L277.9 437.3M273.5 440L277.9 437.3L280.1 443.2L277.9 451.9M273.5 454.6L277.9 451.9L280.1 457.8L277.9 466.5M273.5 469.2L277.9 466.5L280.1 472.4L277.9 481.1M273.5 483.8L277.9 481.1L280.1 487L277.9 495.7M273.5 498.4L277.9 495.7L280.1 501.6L277.9 510.3M273.5 513L277.9 510.3L280.1 516.2L277.9 524.9M273.5 527.6L277.9 524.9L280.1 530.8L277.9 539.4M273.5 542.2L277.9 539.4L280.1 545.4L277.9 554M273.5 556.8L277.9 554L280.1 560L277.9 568.6M273.5 571.3L277.9 568.6L280.1 574.6L277.9 583.2M273.5 585.9L277.9 583.2L280.1 589.2L277.9 597.8M280.1 399.5L284.5 396.8L286.7 402.7L284.5 411.3M280.1 414.1L284.5 411.3L286.7 417.3L284.5 425.9M280.1 428.7L284.5 425.9L286.7 431.9L284.5 440.5M280.1 443.2L284.5 440.5L286.7 446.5L284.5 455.1M280.1 457.8L284.5 455.1L286.7 461.1L284.5 469.7M280.1 472.4L284.5 469.7L286.7 475.7L284.5 484.3M280.1 487L284.5 484.3L286.7 490.2L284.5 498.9M280.1 501.6L284.5 498.9L286.7 504.8L284.5 513.5M280.1 516.2L284.5 513.5L286.7 519.4L284.5 528.1M280.1 530.8L284.5 528.1L286.7 534L284.5 542.7M280.1 545.4L284.5 542.7L286.7 548.6L284.5 557.3M280.1 560L284.5 557.3L286.7 563.2L284.5 571.9M280.1 574.6L284.5 571.9L286.7 577.8L284.5 586.5M280.1 589.2L284.5 586.5L286.7 592.4L284.5 601M286.7 402.7L291.1 400L293.2 405.9L291.1 414.6M286.7 417.3L291.1 414.6L293.2 420.5L291.1 429.2M286.7 431.9L291.1 429.2L293.2 435.1L291.1 443.8M286.7 446.5L291.1 443.8L293.2 449.7L291.1 458.3M286.7 461.1L291.1 458.3L293.2 464.3L291.1 472.9M286.7 475.7L291.1 472.9L293.2 478.9L291.1 487.5M286.7 490.2L291.1 487.5L293.2 493.5L291.1 502.1M286.7 504.8L291.1 502.1L293.2 508.1L291.1 516.7M286.7 519.4L291.1 516.7L293.2 522.7L291.1 531.3M286.7 534L291.1 531.3L293.2 537.2L291.1 545.9M286.7 548.6L291.1 545.9L293.2 551.8L291.1 560.5M286.7 563.2L291.1 560.5L293.2 566.4L291.1 575.1M286.7 577.8L291.1 575.1L293.2 581L291.1 589.7M286.7 592.4L291.1 589.7L293.2 595.6L291.1 604.3M293.2 405.9L297.6 403.2L299.8 409.1L297.6 417.8M293.2 420.5L297.6 417.8L299.8 423.7L297.6 432.4M293.2 435.1L297.6 432.4L299.8 438.3L297.6 447M293.2 449.7L297.6 447L299.8 452.9L297.6 461.6M293.2 464.3L297.6 461.6L299.8 467.5L297.6 476.2M293.2 478.9L297.6 476.2L299.8 482.1L297.6 490.8M293.2 493.5L297.6 490.8L299.8 496.7L297.6 505.3M293.2 508.1L297.6 505.3L299.8 511.3L297.6 519.9M293.2 522.7L297.6 519.9L299.8 525.9L297.6 534.5M293.2 537.2L297.6 534.5L299.8 540.5L297.6 549.1M293.2 551.8L297.6 549.1L299.8 555.1L297.6 563.7M293.2 566.4L297.6 563.7L299.8 569.7L297.6 578.3M293.2 581L297.6 578.3L299.8 584.2L297.6 592.9M293.2 595.6L297.6 592.9L299.8 598.8L297.6 607.5M299.8 409.1L304.2 406.4L306.4 412.4L304.2 421M299.8 423.7L304.2 421L306.4 427L304.2 435.6M299.8 438.3L304.2 435.6L306.4 441.6L304.2 450.2M299.8 452.9L304.2 450.2L306.4 456.1L304.2 464.8M299.8 467.5L304.2 464.8L306.4 470.7L304.2 479.4M299.8 482.1L304.2 479.4L306.4 485.3L304.2 494M299.8 496.7L304.2 494L306.4 499.9L304.2 508.6M299.8 511.3L304.2 508.6L306.4 514.5L304.2 523.2M299.8 525.9L304.2 523.2L306.4 529.1L304.2 537.8M299.8 540.5L304.2 537.8L306.4 543.7L304.2 552.4M299.8 555.1L304.2 552.4L306.4 558.3L304.2 566.9M299.8 569.7L304.2 566.9L306.4 572.9L304.2 581.5M299.8 584.2L304.2 581.5L306.4 587.5L304.2 596.1" stroke="#39444c" stroke-width="3"/><path d="M260.4 404.4L264.8 401.7L267 407.6L264.8 416.3M260.4 419L264.8 416.3L267 422.2L264.8 430.9M260.4 433.6L264.8 430.9L267 436.8L264.8 445.4M260.4 448.2L264.8 445.4L267 451.4L264.8 460M260.4 462.8L264.8 460L267 466L264.8 474.6M260.4 477.3L264.8 474.6L267 480.6L264.8 489.2M260.4 491.9L264.8 489.2L267 495.2L264.8 503.8M260.4 506.5L264.8 503.8L267 509.8L264.8 518.4M260.4 521.1L264.8 518.4L267 524.3L264.8 533M260.4 535.7L264.8 533L267 538.9L264.8 547.6M260.4 550.3L264.8 547.6L267 553.5L264.8 562.2M260.4 564.9L264.8 562.2L267 568.1L264.8 576.8M260.4 579.5L264.8 576.8L267 582.7L264.8 591.4M260.4 594.1L264.8 591.4L267 597.3L264.8 606M267 407.6L271.4 404.9L273.5 410.8L271.4 419.5M267 422.2L271.4 419.5L273.5 425.4L271.4 434.1M267 436.8L271.4 434.1L273.5 440L271.4 448.7M267 451.4L271.4 448.7L273.5 454.6L271.4 463.3M267 466L271.4 463.3L273.5 469.2L271.4 477.9M267 480.6L271.4 477.9L273.5 483.8L271.4 492.4M267 495.2L271.4 492.4L273.5 498.4L271.4 507M267 509.8L271.4 507L273.5 513L271.4 521.6M267 524.3L271.4 521.6L273.5 527.6L271.4 536.2M267 538.9L271.4 536.2L273.5 542.2L271.4 550.8M267 553.5L271.4 550.8L273.5 556.8L271.4 565.4M267 568.1L271.4 565.4L273.5 571.3L271.4 580M267 582.7L271.4 580L273.5 585.9L271.4 594.6M273.5 410.8L277.9 408.1L280.1 414.1L277.9 422.7M273.5 425.4L277.9 422.7L280.1 428.7L277.9 437.3M273.5 440L277.9 437.3L280.1 443.2L277.9 451.9M273.5 454.6L277.9 451.9L280.1 457.8L277.9 466.5M273.5 469.2L277.9 466.5L280.1 472.4L277.9 481.1M273.5 483.8L277.9 481.1L280.1 487L277.9 495.7M273.5 498.4L277.9 495.7L280.1 501.6L277.9 510.3M273.5 513L277.9 510.3L280.1 516.2L277.9 524.9M273.5 527.6L277.9 524.9L280.1 530.8L277.9 539.4M273.5 542.2L277.9 539.4L280.1 545.4L277.9 554M273.5 556.8L277.9 554L280.1 560L277.9 568.6M273.5 571.3L277.9 568.6L280.1 574.6L277.9 583.2M273.5 585.9L277.9 583.2L280.1 589.2L277.9 597.8M280.1 399.5L284.5 396.8L286.7 402.7L284.5 411.3M280.1 414.1L284.5 411.3L286.7 417.3L284.5 425.9M280.1 428.7L284.5 425.9L286.7 431.9L284.5 440.5M280.1 443.2L284.5 440.5L286.7 446.5L284.5 455.1M280.1 457.8L284.5 455.1L286.7 461.1L284.5 469.7M280.1 472.4L284.5 469.7L286.7 475.7L284.5 484.3M280.1 487L284.5 484.3L286.7 490.2L284.5 498.9M280.1 501.6L284.5 498.9L286.7 504.8L284.5 513.5M280.1 516.2L284.5 513.5L286.7 519.4L284.5 528.1M280.1 530.8L284.5 528.1L286.7 534L284.5 542.7M280.1 545.4L284.5 542.7L286.7 548.6L284.5 557.3M280.1 560L284.5 557.3L286.7 563.2L284.5 571.9M280.1 574.6L284.5 571.9L286.7 577.8L284.5 586.5M280.1 589.2L284.5 586.5L286.7 592.4L284.5 601M286.7 402.7L291.1 400L293.2 405.9L291.1 414.6M286.7 417.3L291.1 414.6L293.2 420.5L291.1 429.2M286.7 431.9L291.1 429.2L293.2 435.1L291.1 443.8M286.7 446.5L291.1 443.8L293.2 449.7L291.1 458.3M286.7 461.1L291.1 458.3L293.2 464.3L291.1 472.9M286.7 475.7L291.1 472.9L293.2 478.9L291.1 487.5M286.7 490.2L291.1 487.5L293.2 493.5L291.1 502.1M286.7 504.8L291.1 502.1L293.2 508.1L291.1 516.7M286.7 519.4L291.1 516.7L293.2 522.7L291.1 531.3M286.7 534L291.1 531.3L293.2 537.2L291.1 545.9M286.7 548.6L291.1 545.9L293.2 551.8L291.1 560.5M286.7 563.2L291.1 560.5L293.2 566.4L291.1 575.1M286.7 577.8L291.1 575.1L293.2 581L291.1 589.7M286.7 592.4L291.1 589.7L293.2 595.6L291.1 604.3M293.2 405.9L297.6 403.2L299.8 409.1L297.6 417.8M293.2 420.5L297.6 417.8L299.8 423.7L297.6 432.4M293.2 435.1L297.6 432.4L299.8 438.3L297.6 447M293.2 449.7L297.6 447L299.8 452.9L297.6 461.6M293.2 464.3L297.6 461.6L299.8 467.5L297.6 476.2M293.2 478.9L297.6 476.2L299.8 482.1L297.6 490.8M293.2 493.5L297.6 490.8L299.8 496.7L297.6 505.3M293.2 508.1L297.6 505.3L299.8 511.3L297.6 519.9M293.2 522.7L297.6 519.9L299.8 525.9L297.6 534.5M293.2 537.2L297.6 534.5L299.8 540.5L297.6 549.1M293.2 551.8L297.6 549.1L299.8 555.1L297.6 563.7M293.2 566.4L297.6 563.7L299.8 569.7L297.6 578.3M293.2 581L297.6 578.3L299.8 584.2L297.6 592.9M293.2 595.6L297.6 592.9L299.8 598.8L297.6 607.5M299.8 409.1L304.2 406.4L306.4 412.4L304.2 421M299.8 423.7L304.2 421L306.4 427L304.2 435.6M299.8 438.3L304.2 435.6L306.4 441.6L304.2 450.2M299.8 452.9L304.2 450.2L306.4 456.1L304.2 464.8M299.8 467.5L304.2 464.8L306.4 470.7L304.2 479.4M299.8 482.1L304.2 479.4L306.4 485.3L304.2 494M299.8 496.7L304.2 494L306.4 499.9L304.2 508.6M299.8 511.3L304.2 508.6L306.4 514.5L304.2 523.2M299.8 525.9L304.2 523.2L306.4 529.1L304.2 537.8M299.8 540.5L304.2 537.8L306.4 543.7L304.2 552.4M299.8 555.1L304.2 552.4L306.4 558.3L304.2 566.9M299.8 569.7L304.2 566.9L306.4 572.9L304.2 581.5M299.8 584.2L304.2 581.5L306.4 587.5L304.2 596.1" stroke="#a5abae" stroke-width="0.800"/></g><path d="M264.800 415H299.900V566Q299.900 568.600 297.500 570L267 589.500Q264.800 590.500 264.800 588Z" fill="none" stroke="#39444c" stroke-width="1.300"/>
<path d="M302.900 417V572" fill="none" stroke="#39444c" stroke-width="2.2"/>
<rect x="299.900" y="450.500" width="3" height="2.500" fill="#39444c"/><rect x="299.900" y="478" width="3.500" height="3" fill="#39444c"/><rect x="299.900" y="571" width="3.500" height="4" fill="#39444c"/>
<path d="M275.500 432L289.500 426.300Q291 425.800 291 427.500L291.500 459.500Q291.500 461 290 461.700L276 469Q274.500 469.600 274.500 468L274 434Q274 432.600 275.500 432Z" fill="#4d575e" stroke="#39444c" stroke-width="1"/>
<path d="M276.3 434.5h1.400M276.3 438.1h1.400M276.3 441.7h1.400M276.3 445.3h1.400M276.3 448.9h1.400M276.3 452.5h1.400M276.3 456.1h1.400M276.3 459.7h1.400M276.3 463.3h1.400M278.8 433.4h1.400M278.8 437.1h1.400M278.8 440.6h1.400M278.8 444.2h1.400M278.8 447.8h1.400M278.8 451.4h1.400M278.8 455.1h1.400M278.8 458.6h1.400M278.8 462.2h1.400M281.3 432.4h1.400M281.3 436h1.400M281.3 439.6h1.400M281.3 443.2h1.400M281.3 446.8h1.400M281.3 450.4h1.400M281.3 454h1.400M281.3 457.6h1.400M281.3 461.2h1.400M283.8 431.4h1.400M283.8 435h1.400M283.8 438.6h1.400M283.8 442.2h1.400M283.8 445.8h1.400M283.8 449.4h1.400M283.8 453h1.400M283.8 456.6h1.400M283.8 460.2h1.400M286.3 430.3h1.400M286.3 433.9h1.400M286.3 437.5h1.400M286.3 441.1h1.400M286.3 444.7h1.400M286.3 448.3h1.400M286.3 451.9h1.400M286.3 455.5h1.400M286.3 459.1h1.400M288.8 429.2h1.400M288.8 432.9h1.400M288.8 436.4h1.400M288.8 440.1h1.400M288.8 443.6h1.400M288.8 447.2h1.400M288.8 450.9h1.400M288.8 454.4h1.400M288.8 458.1h1.400" stroke="#d5d8d9" stroke-width="1.700" fill="none"/>
<path d="M273 433.500L274 468.500L277 470.500L291.500 463" fill="none" stroke="#c9cccd" stroke-width="0.9"/>
<ellipse cx="284.600" cy="513" rx="3.200" ry="6.500" fill="#f4f5f5" stroke="#39444c" stroke-width="1" transform="rotate(-8 284.600 513)"/>
<rect x="283.500" y="509" width="3.500" height="2.500" fill="#39444c"/>
<path d="M270.900 551.100L290.700 540.400L291.500 565.600L271.700 576.200Z" fill="#eef0f0" stroke="#39444c" stroke-width="1.1" stroke-linejoin="round"/>
<path d="M272.300 553L290 543.200M272.500 578L292 567.500" fill="none" stroke="#39444c" stroke-width="0.9"/>
<path d="M284.500 576L297.500 573L301.500 584L302.500 598H280L282.500 587Z" fill="#39444c"/>
<path d="M285.500 584l2.500 0.800M287 589l1 6M291.500 579.500l5 1.500M290 594l8-3M294 585l3 4" fill="none" stroke="#dfe2e3" stroke-width="1.2"/>
<path d="M317.500 512.800L241 497.800M317.500 519.500L235 503.700" fill="none" stroke="#25a45c" stroke-width="0.9" stroke-dasharray="3 1.600"/>
<path d="M236.500 496.500l7.500-2.300l-1.600 3.500l2.600 3.300z" fill="#25a45c"/><path d="M229.800 502.500l7.500-2.300l-1.600 3.500l2.600 3.300z" fill="#25a45c"/>
<ellipse cx="226" cy="498.600" rx="5.500" ry="4.600" fill="none" stroke="#25a45c" stroke-width="0.900" stroke-dasharray="2 1.500"/>
<path d="M318 477.400L326.700 471.300L338.900 473.600V533.100L330.500 538L318 536Z" fill="#fff" stroke="#39444c" stroke-width="1" stroke-linejoin="round"/>
<path d="M330.500 479.700L338.900 473.600V533.100L330.500 538Z" fill="#c9cccd" stroke="#39444c" stroke-width="0.9" stroke-linejoin="round"/>
<path d="M318 477.400L326.700 471.300L338.900 473.600L330.500 479.700Z" fill="#c9cccd" stroke="#39444c" stroke-width="0.9" stroke-linejoin="round"/>
<ellipse cx="328.300" cy="474.600" rx="2.600" ry="1.500" fill="#39444c"/>
<path d="M320.500 478V536.500M322.800 478.500V537M328.300 479.500V537.500" fill="none" stroke="#39444c" stroke-width="0.8"/>
<path d="M333.200 481l3.500-2.500v14l-3.500 2.500z" fill="#39444c"/><path d="M333.200 498l3.500-2.500v11l-3.500 2.500z" fill="none" stroke="#39444c" stroke-width="0.900"/><path d="M333.200 515.500l3.500-2.500v13.500l-3.500 2.500z" fill="#39444c"/>
<circle cx="332" cy="519" r="1.500" fill="#39444c"/>
<path d="M318 536L330.500 538L338.900 533.100" fill="none" stroke="#39444c" stroke-width="1.6"/>
<path d="M379.500 522.500L345 516.200M374 526L340 520.500" fill="none" stroke="#25a45c" stroke-width="0.9" stroke-dasharray="3 1.600"/>
<path d="M339 515.600l8-3l-2 4.200l2.500 3.700z" fill="#25a45c"/><path d="M333.500 520.400l8-3l-2 4.200l2.500 3.700z" fill="#25a45c"/>
<path d="M379.3 522l5.500 0.900l1.200-0.400q2 1.500 0.800 4l-1.700 0.200l-5.800-1.200z" fill="#39444c"/>
<path d="M374 525l5.500 0.900l1.200-0.400q2 1.500 0.800 4l-1.700 0.200l-5.800-1.200z" fill="#39444c"/></g><g id="mini-printer"><g transform="translate(488.900 417.600) scale(0.476)">
<path d="M61.3 80C61.1 77.5 59.9 70 60 65C60.1 60 60.7 54.7 62 50C63.3 45.3 65.3 40.7 68 37C70.7 33.3 74.3 30 78 28C81.7 26 86.3 24.7 90 25C93.7 25.3 97.3 27.2 100 30C102.7 32.8 104.5 37.3 106 42C107.5 46.7 108.3 53 109 58C109.7 63 109.8 69.7 110 72" fill="none" stroke="#39444c" stroke-width="4.600"/><path d="M61.3 80C61.1 77.5 59.9 70 60 65C60.1 60 60.7 54.7 62 50C63.3 45.3 65.3 40.7 68 37C70.7 33.3 74.3 30 78 28C81.7 26 86.3 24.7 90 25C93.7 25.3 97.3 27.2 100 30C102.7 32.8 104.5 37.3 106 42C107.5 46.7 108.3 53 109 58C109.7 63 109.8 69.7 110 72" fill="none" stroke="#9a9ea0" stroke-width="1.400"/>
<rect x="54" y="72" width="13" height="12" fill="#39444c"/><rect x="103" y="70" width="14" height="13.500" fill="#39444c"/><rect x="58.500" y="75.500" width="4" height="4" fill="#9a9ea0"/><rect x="107" y="73" width="5" height="5" fill="#e3e5e6"/>
<path d="M20 83.800H209.500L218.200 92V334.800L211.500 341.800H17.700L11.400 334.800V92Z" fill="#f6f7f7" stroke="#39444c" stroke-width="2.400" stroke-linejoin="round"/>
<path d="M11.400 100H20M209.800 100H218.200M11.400 327H20M209.800 327H218.200" fill="none" stroke="#39444c" stroke-width="1.600"/>
<rect x="21" y="92.600" width="188" height="241.500" rx="6" fill="#f1f2f2" stroke="#39444c" stroke-width="5.200"/>
<rect x="21" y="92.600" width="188" height="241.500" rx="6" fill="none" stroke="#aab0b3" stroke-width="0.800"/>
<circle cx="34.4" cy="98.4" r="2.600" fill="#39444c"/>
<circle cx="114.8" cy="98.4" r="2.600" fill="#39444c"/>
<circle cx="194.8" cy="98.4" r="2.600" fill="#39444c"/>
<circle cx="25.8" cy="112" r="2.600" fill="#39444c"/>
<circle cx="203.5" cy="112" r="2.600" fill="#39444c"/>
<circle cx="114.8" cy="329" r="2.600" fill="#39444c"/>
<circle cx="25.9" cy="319.4" r="2.600" fill="#39444c"/>
<circle cx="203.5" cy="319" r="2.600" fill="#39444c"/>
<path d="M16.5 342h21.800l3.200 12.500h-29.100z" fill="#7c8489" stroke="#39444c" stroke-width="2.200"/>
<path d="M13.2 351.500h27.600" stroke="#39444c" stroke-width="4" fill="none"/>
<path d="M192.3 342h21.800l3.200 12.500h-29.100z" fill="#7c8489" stroke="#39444c" stroke-width="2.200"/>
<path d="M189 351.500h27.600" stroke="#39444c" stroke-width="4" fill="none"/>
<g clip-path="url(#hc1)"><use href="#hx1" fill="none" stroke="#39444c" stroke-width="3.8"/></g><rect x="30.3" y="115.7" width="76.4" height="194.7" rx="1.500" fill="none" stroke="#39444c" stroke-width="2.6"/>
<g clip-path="url(#hc2)"><use href="#hx2" fill="none" stroke="#39444c" stroke-width="3.8"/></g><rect x="123.4" y="115.7" width="76.3" height="194.7" rx="1.500" fill="none" stroke="#39444c" stroke-width="2.6"/>
<rect x="75.300" y="140" width="31.400" height="48" fill="#39444c"/>
<rect x="77.500" y="158" width="27.500" height="22" fill="#f1f2f2"/><path d="M79 146.500h24M79 150.500h24" stroke="#dfe2e3" stroke-width="1.500"/>
<rect x="138.200" y="142.800" width="45.800" height="45.700" rx="9" fill="#39444c"/>
<path d="M147.5 152.5h0.100M147.5 159.1h0.100M147.5 165.7h0.100M147.5 172.3h0.100M147.5 178.9h0.100M154.3 152.5h0.100M154.3 159.1h0.100M154.3 165.7h0.100M154.3 172.3h0.100M154.3 178.9h0.100M161.1 152.5h0.100M161.1 159.1h0.100M161.1 165.7h0.100M161.1 172.3h0.100M161.1 178.9h0.100M167.9 152.5h0.100M167.9 159.1h0.100M167.9 165.7h0.100M167.9 172.3h0.100M167.9 178.9h0.100M174.7 152.5h0.100M174.7 159.1h0.100M174.7 165.7h0.100M174.7 172.3h0.100M174.7 178.9h0.100" stroke="#fff" stroke-width="3.600" stroke-linecap="round" fill="none"/>
<circle cx="168.500" cy="240.700" r="10.500" fill="#f1f2f2" stroke="#39444c" stroke-width="3.400"/><circle cx="168.500" cy="240.700" r="5" fill="none" stroke="#39444c" stroke-width="0.800"/>
<rect x="137.800" y="272" width="47.500" height="29.100" rx="2" fill="#f1f2f2" stroke="#39444c" stroke-width="3"/>
<path d="M163 311h26l9 19.200h-44z" fill="#39444c"/><path d="M170 318l5 6M178 316l3 9M186 319l-4 8" stroke="#c9cccd" stroke-width="1.300" fill="none"/>
<rect x="36" y="315" width="10" height="10" fill="#39444c"/>
<rect x="28.300" y="133.700" width="20" height="66.300" rx="1" fill="#8f9395" stroke="#39444c" stroke-width="2.400"/>
<rect x="34.500" y="138" width="8" height="17" fill="#39444c"/><rect x="34.500" y="158" width="8" height="15" fill="#39444c"/><rect x="33.500" y="177" width="10" height="18" fill="#39444c"/>
<path d="M38.500 141v11" stroke="#8f9395" stroke-width="1.500"/>
<rect x="49" y="137" width="13" height="8" fill="#39444c"/>
</g>
<rect x="497.800" y="474.300" width="20.100" height="43.100" rx="4.500" fill="none" stroke="#2f9d5f" stroke-width="1.100" stroke-dasharray="3 1.800"/></g><g id="callout"><path d="M403.500 461.300H479.800Q487.800 461.300 487.800 469.300V479.800Q487.800 487.800 479.800 487.800H470.500L504.900 500.900L441 487.800H403.500Q395.500 487.800 395.500 479.800V469.300Q395.500 461.300 403.500 461.300Z" fill="#eef0f0" stroke="#2f9d5f" stroke-width="1.100" stroke-linejoin="round"/></g>
<g id="ptfe-tube"><path d="M827.7 149C831.1 147.2 841.4 141.8 848 138.5C854.6 135.2 860.8 132.2 867.1 129.4C873.5 126.6 879.8 123.6 886.1 121.4C892.4 119.2 898.8 117.4 905.1 116.1C911.4 114.8 917.8 113.8 924.1 113.8C930.5 113.8 936.9 114.5 943.2 116.1C949.6 117.7 955.9 119.7 962.2 123.3C968.5 126.9 976.1 133 981.2 137.6C986.3 142.2 989.5 146.9 992.6 150.9C995.7 154.9 998.5 159.6 999.7 161.3" fill="none" stroke="#39444c" stroke-width="2.800" stroke-linecap="round"/><path d="M827.7 149C831.1 147.2 841.4 141.8 848 138.5C854.6 135.2 860.8 132.2 867.1 129.4C873.5 126.6 879.8 123.6 886.1 121.4C892.4 119.2 898.8 117.4 905.1 116.1C911.4 114.8 917.8 113.8 924.1 113.8C930.5 113.8 936.9 114.5 943.2 116.1C949.6 117.7 955.9 119.7 962.2 123.3C968.5 126.9 976.1 133 981.2 137.6C986.3 142.2 989.5 146.9 992.6 150.9C995.7 154.9 998.5 159.6 999.7 161.3" fill="none" stroke="#d9dcdd" stroke-width="1" stroke-linecap="butt"/></g><g id="rs485-cable-1"><path d="M815.6 436.8C816.1 435.9 817.1 431.9 818.7 431.1C820.4 430.4 822.9 431.4 825.7 432.4C828.6 433.5 832.1 436.5 835.9 437.5C839.7 438.4 844.1 438.5 848.5 438.1C853 437.7 858.5 435.6 862.5 434.9C866.5 434.3 870 433.7 872.6 434.3C875.3 434.9 877.7 437 878.3 438.7C879 440.5 878.5 443.7 876.4 445.1C874.4 446.5 870.1 447.2 866.3 447C862.5 446.8 857.8 444.8 853.6 443.8C849.4 442.9 845.2 441.7 840.9 441.3C836.7 440.9 832 441.4 828.3 441.3C824.6 441.2 820.9 441.4 818.7 440.7C816.6 439.9 816.1 437.5 815.6 436.8" fill="none" stroke="#39444c" stroke-width="4.1" stroke-linecap="round"/><path d="M815.6 436.8C816.1 435.9 817.1 431.9 818.7 431.1C820.4 430.4 822.9 431.4 825.7 432.4C828.6 433.5 832.1 436.5 835.9 437.5C839.7 438.4 844.1 438.5 848.5 438.1C853 437.7 858.5 435.6 862.5 434.9C866.5 434.3 870 433.7 872.6 434.3C875.3 434.9 877.7 437 878.3 438.7C879 440.5 878.5 443.7 876.4 445.1C874.4 446.5 870.1 447.2 866.3 447C862.5 446.8 857.8 444.8 853.6 443.8C849.4 442.9 845.2 441.7 840.9 441.3C836.7 440.9 832 441.4 828.3 441.3C824.6 441.2 820.9 441.4 818.7 440.7C816.6 439.9 816.1 437.5 815.6 436.8" fill="none" stroke="#c9cccd" stroke-width="2.4" stroke-linecap="round"/>
<path d="M809.2 437.5C809.9 436 810.8 430.4 813 428.6C815.3 426.8 819.2 426.1 822.6 426.7C825.9 427.3 829.4 431 833.3 432.4C837.2 433.8 841.4 434.9 846 434.9C850.7 434.9 856.7 433.1 861.2 432.4C865.8 431.7 869.9 430.1 873.3 430.5C876.7 430.9 879.7 432.9 881.5 434.9C883.4 437 884.7 439.9 884.3 442.6C883.9 445.2 881.6 449 879 450.8C876.4 452.6 872.4 453.4 868.8 453.3C865.2 453.2 861.2 451.3 857.4 450.2C853.6 449 850.2 446.9 846 446.4C841.8 445.8 836.7 446.8 832.1 447C827.4 447.2 821.6 448.2 818.1 447.6C814.6 447.1 812.6 445.5 811.1 443.8C809.7 442.1 809.6 438.5 809.2 437.5" fill="none" stroke="#39444c" stroke-width="4.1" stroke-linecap="round"/><path d="M809.2 437.5C809.9 436 810.8 430.4 813 428.6C815.3 426.8 819.2 426.1 822.6 426.7C825.9 427.3 829.4 431 833.3 432.4C837.2 433.8 841.4 434.9 846 434.9C850.7 434.9 856.7 433.1 861.2 432.4C865.8 431.7 869.9 430.1 873.3 430.5C876.7 430.9 879.7 432.9 881.5 434.9C883.4 437 884.7 439.9 884.3 442.6C883.9 445.2 881.6 449 879 450.8C876.4 452.6 872.4 453.4 868.8 453.3C865.2 453.2 861.2 451.3 857.4 450.2C853.6 449 850.2 446.9 846 446.4C841.8 445.8 836.7 446.8 832.1 447C827.4 447.2 821.6 448.2 818.1 447.6C814.6 447.1 812.6 445.5 811.1 443.8C809.7 442.1 809.6 438.5 809.2 437.5" fill="none" stroke="#c9cccd" stroke-width="2.4" stroke-linecap="round"/>
<path d="M804.4 436.8C804.9 435.5 805.7 430.8 807.3 428.6C809 426.4 811.7 424.6 814.3 423.5C817 422.4 820.2 421.6 823.2 422C826.1 422.4 828.7 424.7 832.1 426.1C835.4 427.5 839.9 429.7 843.5 430.5C847.1 431.3 850.2 431.3 853.6 430.9C857 430.5 860.4 429.1 863.8 428.2C867.1 427.4 870.7 425.5 873.9 425.8C877.1 426.1 880.4 428 882.8 429.9C885.2 431.7 887.4 434.4 888.5 436.8C889.6 439.3 889.9 441.8 889.4 444.5C888.9 447.1 887.3 450.4 885.3 452.7C883.4 455 880.5 457.1 877.7 458.4C875 459.7 872 460.4 868.8 460.3C865.7 460.2 862.1 459 858.7 457.8C855.3 456.5 851.9 453.9 848.5 452.7C845.2 451.5 842 450.8 838.4 450.8C834.8 450.8 830.6 452.2 827 452.7C823.4 453.2 819.9 454.2 816.8 453.6C813.8 453 810.7 451.7 808.6 448.9C806.5 446.1 805.1 438.9 804.4 436.8" fill="none" stroke="#39444c" stroke-width="4.1" stroke-linecap="round"/><path d="M804.4 436.8C804.9 435.5 805.7 430.8 807.3 428.6C809 426.4 811.7 424.6 814.3 423.5C817 422.4 820.2 421.6 823.2 422C826.1 422.4 828.7 424.7 832.1 426.1C835.4 427.5 839.9 429.7 843.5 430.5C847.1 431.3 850.2 431.3 853.6 430.9C857 430.5 860.4 429.1 863.8 428.2C867.1 427.4 870.7 425.5 873.9 425.8C877.1 426.1 880.4 428 882.8 429.9C885.2 431.7 887.4 434.4 888.5 436.8C889.6 439.3 889.9 441.8 889.4 444.5C888.9 447.1 887.3 450.4 885.3 452.7C883.4 455 880.5 457.1 877.7 458.4C875 459.7 872 460.4 868.8 460.3C865.7 460.2 862.1 459 858.7 457.8C855.3 456.5 851.9 453.9 848.5 452.7C845.2 451.5 842 450.8 838.4 450.8C834.8 450.8 830.6 452.2 827 452.7C823.4 453.2 819.9 454.2 816.8 453.6C813.8 453 810.7 451.7 808.6 448.9C806.5 446.1 805.1 438.9 804.4 436.8" fill="none" stroke="#c9cccd" stroke-width="2.4" stroke-linecap="round"/>
<path d="M798.5 436.2C799.1 437.3 800.6 440.4 802.3 442.6C804 444.7 806.2 447.1 808.6 448.9C811 450.7 813.8 453 816.8 453.6C819.9 454.2 825.3 452.8 827 452.7" fill="none" stroke="#39444c" stroke-width="4.1" stroke-linecap="round"/><path d="M798.5 436.2C799.1 437.3 800.6 440.4 802.3 442.6C804 444.7 806.2 447.1 808.6 448.9C811 450.7 813.8 453 816.8 453.6C819.9 454.2 825.3 452.8 827 452.7" fill="none" stroke="#c9cccd" stroke-width="2.4" stroke-linecap="round"/>
<path d="M876.4 445.1C877.7 444.6 882 443.5 884.1 441.9C886.1 440.3 887.3 437.9 888.5 435.6C889.7 433.3 890.9 429.4 891.4 428.2" fill="none" stroke="#39444c" stroke-width="4.1" stroke-linecap="round"/><path d="M876.4 445.1C877.7 444.6 882 443.5 884.1 441.9C886.1 440.3 887.3 437.9 888.5 435.6C889.7 433.3 890.9 429.4 891.4 428.2" fill="none" stroke="#c9cccd" stroke-width="2.4" stroke-linecap="round"/>
<g transform="translate(793.8 426.7) rotate(-30)"><path d="M-4.700 -5.500h9.400l0.800 7.500l-2.300 5.500h-6.400l-2.300-5.500z" fill="#c9cccd" stroke="#39444c" stroke-width="1" stroke-linejoin="round"/><path d="M-5.200 0.500h10.400" stroke="#39444c" stroke-width="0.900"/><path d="M-2.800 -5.500v-5.500l1.200-1.300h3.200l1.200 1.300v5.500z" fill="#c9cccd" stroke="#39444c" stroke-width="1"/><path d="M-3.800 -5.500v-3.500h7.600v3.500M-1.500 -11v5M1.500 -11v5" stroke="#39444c" stroke-width="1.100" fill="none"/><path d="M-2.300 7.500h4.600v2.500h-4.600z" fill="#c9cccd" stroke="#39444c" stroke-width="0.900"/></g>
<g transform="translate(893.2 417.8) rotate(8)"><path d="M-4.700 -5.500h9.400l0.800 7.500l-2.300 5.500h-6.400l-2.300-5.500z" fill="#c9cccd" stroke="#39444c" stroke-width="1" stroke-linejoin="round"/><path d="M-5.200 0.500h10.400" stroke="#39444c" stroke-width="0.900"/><path d="M-2.800 -5.500v-5.500l1.200-1.300h3.200l1.200 1.300v5.500z" fill="#c9cccd" stroke="#39444c" stroke-width="1"/><path d="M-3.800 -5.500v-3.500h7.600v3.500M-1.500 -11v5M1.500 -11v5" stroke="#39444c" stroke-width="1.100" fill="none"/><path d="M-2.300 7.500h4.600v2.500h-4.600z" fill="#c9cccd" stroke="#39444c" stroke-width="0.900"/></g></g><use href="#rs485-cable-1" transform="translate(143.500 0)"/>
</svg>
</body>
</html>
